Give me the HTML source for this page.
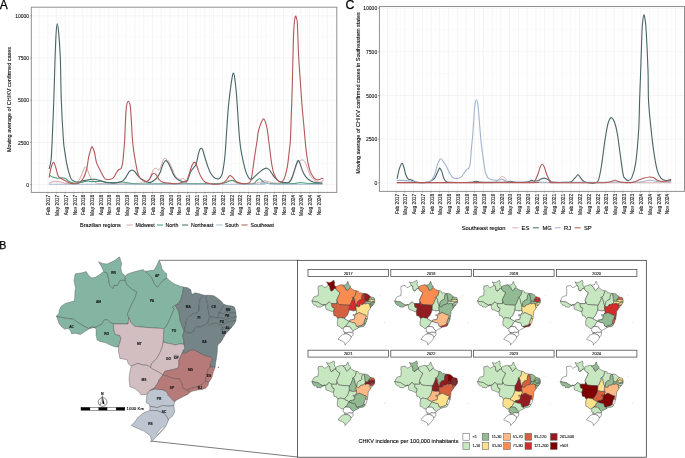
<!DOCTYPE html>
<html><head><meta charset="utf-8"><title>CHIKV figure</title>
<style>html,body{margin:0;padding:0;background:#fff;width:685px;height:458px;overflow:hidden} svg text{stroke:#1a1a1a;stroke-width:0.12px} svg text.big{stroke:#000;stroke-width:0.25px}</style>
</head><body>
<svg width="685" height="458" viewBox="0 0 685 458" style="display:block;will-change:transform;filter:blur(0.3px)"><rect width="685" height="458" fill="#fff"/><rect x="31.3" y="7.2" width="305.5" height="185.20000000000002" fill="#fff"/><line x1="39" y1="7.2" x2="39" y2="192.4" stroke="#ebebeb" stroke-width="0.55"/><line x1="34.7" y1="7.2" x2="34.7" y2="192.4" stroke="#f4f4f4" stroke-width="0.35"/><line x1="43.4" y1="7.2" x2="43.4" y2="192.4" stroke="#f4f4f4" stroke-width="0.35"/><line x1="47.8" y1="7.2" x2="47.8" y2="192.4" stroke="#ebebeb" stroke-width="0.55"/><line x1="52.06" y1="7.2" x2="52.06" y2="192.4" stroke="#f4f4f4" stroke-width="0.35"/><line x1="56.31" y1="7.2" x2="56.31" y2="192.4" stroke="#ebebeb" stroke-width="0.55"/><line x1="60.71" y1="7.2" x2="60.71" y2="192.4" stroke="#f4f4f4" stroke-width="0.35"/><line x1="65.11" y1="7.2" x2="65.11" y2="192.4" stroke="#ebebeb" stroke-width="0.55"/><line x1="69.51" y1="7.2" x2="69.51" y2="192.4" stroke="#f4f4f4" stroke-width="0.35"/><line x1="73.91" y1="7.2" x2="73.91" y2="192.4" stroke="#ebebeb" stroke-width="0.55"/><line x1="78.31" y1="7.2" x2="78.31" y2="192.4" stroke="#f4f4f4" stroke-width="0.35"/><line x1="82.7" y1="7.2" x2="82.7" y2="192.4" stroke="#ebebeb" stroke-width="0.55"/><line x1="86.96" y1="7.2" x2="86.96" y2="192.4" stroke="#f4f4f4" stroke-width="0.35"/><line x1="91.22" y1="7.2" x2="91.22" y2="192.4" stroke="#ebebeb" stroke-width="0.55"/><line x1="95.61" y1="7.2" x2="95.61" y2="192.4" stroke="#f4f4f4" stroke-width="0.35"/><line x1="100.01" y1="7.2" x2="100.01" y2="192.4" stroke="#ebebeb" stroke-width="0.55"/><line x1="104.41" y1="7.2" x2="104.41" y2="192.4" stroke="#f4f4f4" stroke-width="0.35"/><line x1="108.81" y1="7.2" x2="108.81" y2="192.4" stroke="#ebebeb" stroke-width="0.55"/><line x1="113.21" y1="7.2" x2="113.21" y2="192.4" stroke="#f4f4f4" stroke-width="0.35"/><line x1="117.61" y1="7.2" x2="117.61" y2="192.4" stroke="#ebebeb" stroke-width="0.55"/><line x1="121.86" y1="7.2" x2="121.86" y2="192.4" stroke="#f4f4f4" stroke-width="0.35"/><line x1="126.12" y1="7.2" x2="126.12" y2="192.4" stroke="#ebebeb" stroke-width="0.55"/><line x1="130.52" y1="7.2" x2="130.52" y2="192.4" stroke="#f4f4f4" stroke-width="0.35"/><line x1="134.92" y1="7.2" x2="134.92" y2="192.4" stroke="#ebebeb" stroke-width="0.55"/><line x1="139.32" y1="7.2" x2="139.32" y2="192.4" stroke="#f4f4f4" stroke-width="0.35"/><line x1="143.72" y1="7.2" x2="143.72" y2="192.4" stroke="#ebebeb" stroke-width="0.55"/><line x1="148.11" y1="7.2" x2="148.11" y2="192.4" stroke="#f4f4f4" stroke-width="0.35"/><line x1="152.51" y1="7.2" x2="152.51" y2="192.4" stroke="#ebebeb" stroke-width="0.55"/><line x1="156.82" y1="7.2" x2="156.82" y2="192.4" stroke="#f4f4f4" stroke-width="0.35"/><line x1="161.12" y1="7.2" x2="161.12" y2="192.4" stroke="#ebebeb" stroke-width="0.55"/><line x1="165.52" y1="7.2" x2="165.52" y2="192.4" stroke="#f4f4f4" stroke-width="0.35"/><line x1="169.92" y1="7.2" x2="169.92" y2="192.4" stroke="#ebebeb" stroke-width="0.55"/><line x1="174.32" y1="7.2" x2="174.32" y2="192.4" stroke="#f4f4f4" stroke-width="0.35"/><line x1="178.72" y1="7.2" x2="178.72" y2="192.4" stroke="#ebebeb" stroke-width="0.55"/><line x1="183.12" y1="7.2" x2="183.12" y2="192.4" stroke="#f4f4f4" stroke-width="0.35"/><line x1="187.51" y1="7.2" x2="187.51" y2="192.4" stroke="#ebebeb" stroke-width="0.55"/><line x1="191.77" y1="7.2" x2="191.77" y2="192.4" stroke="#f4f4f4" stroke-width="0.35"/><line x1="196.02" y1="7.2" x2="196.02" y2="192.4" stroke="#ebebeb" stroke-width="0.55"/><line x1="200.42" y1="7.2" x2="200.42" y2="192.4" stroke="#f4f4f4" stroke-width="0.35"/><line x1="204.82" y1="7.2" x2="204.82" y2="192.4" stroke="#ebebeb" stroke-width="0.55"/><line x1="209.22" y1="7.2" x2="209.22" y2="192.4" stroke="#f4f4f4" stroke-width="0.35"/><line x1="213.62" y1="7.2" x2="213.62" y2="192.4" stroke="#ebebeb" stroke-width="0.55"/><line x1="218.02" y1="7.2" x2="218.02" y2="192.4" stroke="#f4f4f4" stroke-width="0.35"/><line x1="222.42" y1="7.2" x2="222.42" y2="192.4" stroke="#ebebeb" stroke-width="0.55"/><line x1="226.67" y1="7.2" x2="226.67" y2="192.4" stroke="#f4f4f4" stroke-width="0.35"/><line x1="230.93" y1="7.2" x2="230.93" y2="192.4" stroke="#ebebeb" stroke-width="0.55"/><line x1="235.33" y1="7.2" x2="235.33" y2="192.4" stroke="#f4f4f4" stroke-width="0.35"/><line x1="239.73" y1="7.2" x2="239.73" y2="192.4" stroke="#ebebeb" stroke-width="0.55"/><line x1="244.13" y1="7.2" x2="244.13" y2="192.4" stroke="#f4f4f4" stroke-width="0.35"/><line x1="248.53" y1="7.2" x2="248.53" y2="192.4" stroke="#ebebeb" stroke-width="0.55"/><line x1="252.92" y1="7.2" x2="252.92" y2="192.4" stroke="#f4f4f4" stroke-width="0.35"/><line x1="257.32" y1="7.2" x2="257.32" y2="192.4" stroke="#ebebeb" stroke-width="0.55"/><line x1="261.58" y1="7.2" x2="261.58" y2="192.4" stroke="#f4f4f4" stroke-width="0.35"/><line x1="265.83" y1="7.2" x2="265.83" y2="192.4" stroke="#ebebeb" stroke-width="0.55"/><line x1="270.23" y1="7.2" x2="270.23" y2="192.4" stroke="#f4f4f4" stroke-width="0.35"/><line x1="274.63" y1="7.2" x2="274.63" y2="192.4" stroke="#ebebeb" stroke-width="0.55"/><line x1="279.03" y1="7.2" x2="279.03" y2="192.4" stroke="#f4f4f4" stroke-width="0.35"/><line x1="283.43" y1="7.2" x2="283.43" y2="192.4" stroke="#ebebeb" stroke-width="0.55"/><line x1="287.83" y1="7.2" x2="287.83" y2="192.4" stroke="#f4f4f4" stroke-width="0.35"/><line x1="292.23" y1="7.2" x2="292.23" y2="192.4" stroke="#ebebeb" stroke-width="0.55"/><line x1="296.53" y1="7.2" x2="296.53" y2="192.4" stroke="#f4f4f4" stroke-width="0.35"/><line x1="300.83" y1="7.2" x2="300.83" y2="192.4" stroke="#ebebeb" stroke-width="0.55"/><line x1="305.23" y1="7.2" x2="305.23" y2="192.4" stroke="#f4f4f4" stroke-width="0.35"/><line x1="309.63" y1="7.2" x2="309.63" y2="192.4" stroke="#ebebeb" stroke-width="0.55"/><line x1="314.03" y1="7.2" x2="314.03" y2="192.4" stroke="#f4f4f4" stroke-width="0.35"/><line x1="318.43" y1="7.2" x2="318.43" y2="192.4" stroke="#ebebeb" stroke-width="0.55"/><line x1="322.83" y1="7.2" x2="322.83" y2="192.4" stroke="#f4f4f4" stroke-width="0.35"/><line x1="327.23" y1="7.2" x2="327.23" y2="192.4" stroke="#ebebeb" stroke-width="0.55"/><line x1="331.53" y1="7.2" x2="331.53" y2="192.4" stroke="#f4f4f4" stroke-width="0.35"/><line x1="31.3" y1="184.6" x2="336.8" y2="184.6" stroke="#ebebeb" stroke-width="0.55"/><line x1="31.3" y1="163.5" x2="336.8" y2="163.5" stroke="#f4f4f4" stroke-width="0.35"/><line x1="31.3" y1="142.4" x2="336.8" y2="142.4" stroke="#ebebeb" stroke-width="0.55"/><line x1="31.3" y1="121.3" x2="336.8" y2="121.3" stroke="#f4f4f4" stroke-width="0.35"/><line x1="31.3" y1="100.2" x2="336.8" y2="100.2" stroke="#ebebeb" stroke-width="0.55"/><line x1="31.3" y1="79.1" x2="336.8" y2="79.1" stroke="#f4f4f4" stroke-width="0.35"/><line x1="31.3" y1="58" x2="336.8" y2="58" stroke="#ebebeb" stroke-width="0.55"/><line x1="31.3" y1="36.9" x2="336.8" y2="36.9" stroke="#f4f4f4" stroke-width="0.35"/><line x1="31.3" y1="15.8" x2="336.8" y2="15.8" stroke="#ebebeb" stroke-width="0.55"/><path d="M49.2,183.1C50.15,182.8 53.03,181.48 54.9,181.3C56.77,181.12 58.58,181.63 60.4,182C62.22,182.37 63.87,183.2 65.8,183.5C67.73,183.8 70.17,183.85 72,183.8C73.83,183.75 75.28,184.5 76.8,183.2C78.32,181.9 79.83,178.57 81.1,176C82.37,173.43 83.58,169.25 84.4,167.8C85.22,166.35 85.45,166.83 86,167.3C86.55,167.77 87.05,169.15 87.7,170.6C88.35,172.05 89.18,174.47 89.9,176C90.62,177.53 90.88,178.62 92,179.8C93.12,180.98 95.12,182.45 96.6,183.1C98.08,183.75 97,183.57 100.9,183.7C104.8,183.83 113.82,183.93 120,183.9C126.18,183.87 134.23,183.82 138,183.5C141.77,183.18 141.12,182.25 142.6,182C144.08,181.75 145.63,182.82 146.9,182C148.17,181.18 149.1,179.18 150.2,177.1C151.3,175.02 152.5,170.95 153.5,169.5C154.5,168.05 155.38,168.32 156.2,168.4C157.02,168.48 157.67,170.18 158.4,170C159.13,169.82 159.78,169.02 160.6,167.3C161.42,165.58 162.48,161.15 163.3,159.7C164.12,158.25 164.58,158.25 165.5,158.6C166.42,158.95 167.72,160.17 168.8,161.8C169.88,163.43 170.92,166.03 172,168.4C173.08,170.77 174.02,174.18 175.3,176C176.58,177.82 178.42,178.9 179.7,179.3C180.98,179.7 182.18,178.4 183,178.4C183.82,178.4 184.03,178.6 184.6,179.3C185.17,180 185.5,181.83 186.4,182.6C187.3,183.37 184.4,183.72 190,183.9C195.6,184.08 214.08,183.98 220,183.7C225.92,183.42 224,182.75 225.5,182.2C227,181.65 227.85,180.62 229,180.4C230.15,180.18 231.12,180.45 232.4,180.9C233.68,181.35 234.6,182.6 236.7,183.1C238.8,183.6 241.95,183.83 245,183.9C248.05,183.97 252.37,183.82 255,183.5C257.63,183.18 259.12,182.43 260.8,182C262.48,181.57 263.65,180.9 265.1,180.9C266.55,180.9 268.03,181.63 269.5,182C270.97,182.37 272.05,182.92 273.9,183.1C275.75,183.28 278.4,183.18 280.6,183.1C282.8,183.02 285.47,182.87 287.1,182.6C288.73,182.33 289.3,182.97 290.4,181.5C291.5,180.03 292.62,176.72 293.7,173.8C294.78,170.88 295.82,166.18 296.9,164C297.98,161.82 299.28,161.38 300.2,160.7C301.12,160.02 301.67,159.8 302.4,159.9C303.13,160 303.87,160.25 304.6,161.3C305.33,162.35 305.9,163.93 306.8,166.2C307.7,168.47 308.92,172.72 310,174.9C311.08,177.08 312.02,178.12 313.3,179.3C314.58,180.48 316.25,181.63 317.7,182C319.15,182.37 321.1,181.77 322,181.5C322.9,181.23 322.92,180.58 323.1,180.4" fill="none" stroke="#d5a3a4" stroke-width="1.0" stroke-linejoin="round" stroke-linecap="round"/><path d="M50,175.5C50.45,175.77 51.52,176.65 52.7,177.1C53.88,177.55 55.63,178.1 57.1,178.2C58.57,178.3 60.05,177.6 61.5,177.7C62.95,177.8 64.53,178.17 65.8,178.8C67.07,179.43 67.82,180.82 69.1,181.5C70.38,182.18 72.05,182.63 73.5,182.9C74.95,183.17 76.17,183.25 77.8,183.1C79.43,182.95 81.65,182.35 83.3,182C84.95,181.65 86.42,181.07 87.7,181C88.98,180.93 89.7,181.52 91,181.6C92.3,181.68 93.85,181.55 95.5,181.5C97.15,181.45 99.27,181.22 100.9,181.3C102.53,181.38 103.48,181.78 105.3,182C107.12,182.22 109.8,182.53 111.8,182.6C113.8,182.67 115.47,182.5 117.3,182.4C119.13,182.3 120.98,181.88 122.8,182C124.62,182.12 126.38,182.82 128.2,183.1C130.02,183.38 131.73,183.57 133.7,183.7C135.67,183.83 131.28,183.88 140,183.9C148.72,183.92 173.5,183.83 186,183.8C198.5,183.77 209,183.8 215,183.7C221,183.6 220.17,183.42 222,183.2C223.83,182.98 224.45,182.87 226,182.4C227.55,181.93 230.05,180.73 231.3,180.4C232.55,180.07 232.68,180.13 233.5,180.4C234.32,180.67 234.93,181.45 236.2,182C237.47,182.55 238.3,183.42 241.1,183.7C243.9,183.98 250.45,184.17 253,183.7C255.55,183.23 255.28,181.72 256.4,180.9C257.52,180.08 258.8,178.88 259.7,178.8C260.6,178.72 260.98,179.77 261.8,180.4C262.62,181.03 263.32,182.08 264.6,182.6C265.88,183.12 267.27,183.28 269.5,183.5C271.73,183.72 273.97,183.9 278,183.9C282.03,183.9 290,183.72 293.7,183.5C297.4,183.28 298.15,182.63 300.2,182.6C302.25,182.57 302.37,183.12 306,183.3C309.63,183.48 319.33,183.63 322,183.7" fill="none" stroke="#449b79" stroke-width="1.05" stroke-linejoin="round" stroke-linecap="round"/><path d="M49.2,168.6C49.52,167.12 50.6,164.47 51.1,159.7C51.6,154.93 51.75,149.95 52.2,140C52.65,130.05 53.32,113.8 53.8,100C54.28,86.2 54.7,68.53 55.1,57.2C55.5,45.87 55.83,37.57 56.2,32C56.57,26.43 56.9,23.8 57.3,23.8C57.7,23.8 58.1,26.43 58.6,32C59.1,37.57 59.85,45.87 60.3,57.2C60.75,68.53 60.78,86.2 61.3,100C61.82,113.8 62.83,131.52 63.4,140C63.97,148.48 64.2,147.27 64.7,150.9C65.2,154.53 65.75,158.33 66.4,161.8C67.05,165.27 67.78,168.78 68.6,171.7C69.42,174.62 70.3,177.67 71.3,179.3C72.3,180.93 73.33,181.05 74.6,181.5C75.87,181.95 77.63,182.1 78.9,182C80.17,181.9 81.1,181.17 82.2,180.9C83.3,180.63 84.22,180.63 85.5,180.4C86.78,180.17 88.42,179.68 89.9,179.5C91.38,179.32 92.93,179.18 94.4,179.3C95.87,179.42 97.25,179.83 98.7,180.2C100.15,180.57 101.63,181.07 103.1,181.5C104.57,181.93 105.68,182.53 107.5,182.8C109.32,183.07 112,183.23 114,183.1C116,182.97 118.03,182.37 119.5,182C120.97,181.63 121.72,181.72 122.8,180.9C123.88,180.08 124.92,178.63 126,177.1C127.08,175.57 128.3,172.88 129.3,171.7C130.3,170.52 131.08,170 132,170C132.92,170 133.8,170.7 134.8,171.7C135.8,172.7 136.88,174.73 138,176C139.12,177.27 140.2,178.38 141.5,179.3C142.8,180.22 144.53,180.95 145.8,181.5C147.07,182.05 148,182.6 149.1,182.6C150.2,182.6 151.13,182.23 152.4,181.5C153.67,180.77 155.43,179.65 156.7,178.2C157.97,176.75 159,174.98 160,172.8C161,170.62 161.78,167.12 162.7,165.1C163.62,163.08 164.58,161.07 165.5,160.7C166.42,160.33 167.3,161.62 168.2,162.9C169.1,164.18 169.98,166.4 170.9,168.4C171.82,170.4 172.7,173.17 173.7,174.9C174.7,176.63 175.72,177.8 176.9,178.8C178.08,179.8 179.4,180.37 180.8,180.9C182.2,181.43 184.18,182.08 185.3,182C186.42,181.92 186.6,182.12 187.5,180.4C188.4,178.68 189.62,173.88 190.7,171.7C191.78,169.52 193.08,168.58 194,167.3C194.92,166.02 195.47,166.18 196.2,164C196.93,161.82 197.77,156.65 198.4,154.2C199.03,151.75 199.5,150.3 200,149.3C200.5,148.3 200.95,148.12 201.4,148.2C201.85,148.28 202.12,148.25 202.7,149.8C203.28,151.35 204.07,154.77 204.9,157.5C205.73,160.23 206.78,163.65 207.7,166.2C208.62,168.75 209.4,170.98 210.4,172.8C211.4,174.62 212.62,176.1 213.7,177.1C214.78,178.1 215.9,178.62 216.9,178.8C217.9,178.98 218.88,178.85 219.7,178.2C220.52,177.55 221.17,176.72 221.8,174.9C222.43,173.08 222.95,170.75 223.5,167.3C224.05,163.85 224.62,159.58 225.1,154.2C225.58,148.82 225.87,142.7 226.4,135C226.93,127.3 227.65,115.5 228.3,108C228.95,100.5 229.67,95.07 230.3,90C230.93,84.93 231.6,80.43 232.1,77.6C232.6,74.77 232.87,72.97 233.3,73C233.73,73.03 234.17,74.2 234.7,77.8C235.23,81.4 235.87,86.73 236.5,94.6C237.13,102.47 237.97,117.43 238.5,125C239.03,132.57 239.27,135.68 239.7,140C240.13,144.32 240.5,147.27 241.1,150.9C241.7,154.53 242.57,158.52 243.3,161.8C244.03,165.08 244.68,168.05 245.5,170.6C246.32,173.15 247.38,175.65 248.2,177.1C249.02,178.55 249.58,179.12 250.4,179.3C251.22,179.48 252.1,178.93 253.1,178.2C254.1,177.47 255.12,176.08 256.4,174.9C257.68,173.72 259.53,172.1 260.8,171.1C262.07,170.1 263,169.38 264,168.9C265,168.42 265.88,168.02 266.8,168.2C267.72,168.38 268.5,168.88 269.5,170C270.5,171.12 271.72,173.43 272.8,174.9C273.88,176.37 274.7,177.62 276,178.8C277.3,179.98 279.12,181.37 280.6,182C282.08,182.63 283.45,182.6 284.9,182.6C286.35,182.6 288.02,183.1 289.3,182C290.58,180.9 291.6,178.45 292.6,176C293.6,173.55 294.48,169.75 295.3,167.3C296.12,164.85 296.95,162.4 297.5,161.3C298.05,160.2 298.15,160.25 298.6,160.7C299.05,161.15 299.48,162.17 300.2,164C300.92,165.83 301.98,169.6 302.9,171.7C303.82,173.8 304.7,175.25 305.7,176.6C306.7,177.95 307.63,178.9 308.9,179.8C310.17,180.7 311.83,181.48 313.3,182C314.77,182.52 316.25,182.72 317.7,182.9C319.15,183.08 321.28,183.07 322,183.1" fill="none" stroke="#486467" stroke-width="1.1" stroke-linejoin="round" stroke-linecap="round"/><path d="M49.2,184.2C66,184.2 115.53,184.2 150,184.2C184.47,184.2 237.53,184.37 256,184.2C274.47,184.03 259.28,183.52 260.8,183.2C262.32,182.88 263.65,182.23 265.1,182.3C266.55,182.37 267.85,183.28 269.5,183.6C271.15,183.92 266.25,184.1 275,184.2C283.75,184.3 314.17,184.2 322,184.2" fill="none" stroke="#a5b9cf" stroke-width="1.05" stroke-linejoin="round" stroke-linecap="round"/><path d="M49.2,177.1C49.5,175.58 50.27,170.45 51,168C51.73,165.55 52.77,162.33 53.6,162.4C54.43,162.47 55.23,166.13 56,168.4C56.77,170.67 57.28,174.27 58.2,176C59.12,177.73 60.23,177.97 61.5,178.8C62.77,179.63 64.35,180.28 65.8,181C67.25,181.72 68.73,182.65 70.2,183.1C71.67,183.55 73.15,183.7 74.6,183.7C76.05,183.7 77.45,184.02 78.9,183.1C80.35,182.18 82.02,180.47 83.3,178.2C84.58,175.93 85.68,173.13 86.6,169.5C87.52,165.87 88.07,159.87 88.8,156.4C89.53,152.93 90.42,150.3 91,148.7C91.58,147.1 91.73,146.25 92.3,146.8C92.87,147.35 93.68,149.32 94.4,152C95.12,154.68 95.7,159.98 96.6,162.9C97.5,165.82 98.53,167.03 99.8,169.5C101.07,171.97 103.1,176.07 104.2,177.7C105.3,179.33 105.32,179.03 106.4,179.3C107.48,179.57 109.52,179.57 110.7,179.3C111.88,179.03 112.5,178.88 113.5,177.7C114.5,176.52 115.8,173.57 116.7,172.2C117.6,170.83 118.17,170.1 118.9,169.5C119.63,168.9 120.45,169.88 121.1,168.6C121.75,167.32 122.35,164.75 122.8,161.8C123.25,158.85 123.48,154.53 123.8,150.9C124.12,147.27 124.43,144.87 124.7,140C124.97,135.13 125.1,127.3 125.4,121.7C125.7,116.1 126.02,109.82 126.5,106.4C126.98,102.98 127.67,101.2 128.3,101.2C128.93,101.2 129.78,102.98 130.3,106.4C130.82,109.82 131.03,116.1 131.4,121.7C131.77,127.3 132.12,135.13 132.5,140C132.88,144.87 133.13,146.9 133.7,150.9C134.27,154.9 135.18,160.18 135.9,164C136.62,167.82 137.23,171.38 138,173.8C138.77,176.22 139.73,177.5 140.5,178.5C141.27,179.5 141.53,179.3 142.6,179.8C143.67,180.3 145.73,181.58 146.9,181.5C148.07,181.42 148.78,180.4 149.6,179.3C150.42,178.2 151.07,175.9 151.8,174.9C152.53,173.9 153.27,173.3 154,173.3C154.73,173.3 155.38,173.9 156.2,174.9C157.02,175.9 157.9,178.12 158.9,179.3C159.9,180.48 160.55,181.37 162.2,182C163.85,182.63 166.62,182.82 168.8,183.1C170.98,183.38 173.48,183.7 175.3,183.7C177.12,183.7 178.42,183.38 179.7,183.1C180.98,182.82 181.95,182.37 183,182C184.05,181.63 185.25,181.35 186,180.9C186.75,180.45 186.8,181.02 187.5,179.3C188.2,177.58 189.38,173.05 190.2,170.6C191.02,168.15 191.73,165.97 192.4,164.6C193.07,163.23 193.57,162.5 194.2,162.4C194.83,162.3 195.5,162.63 196.2,164C196.9,165.37 197.58,168.42 198.4,170.6C199.22,172.78 200.02,175.2 201.1,177.1C202.18,179 203.35,180.9 204.9,182C206.45,183.1 208.4,183.33 210.4,183.7C212.4,184.07 215.08,184.23 216.9,184.2C218.72,184.17 219.83,184.05 221.3,183.5C222.77,182.95 224.52,181.97 225.7,180.9C226.88,179.83 227.65,178 228.4,177.1C229.15,176.2 229.45,175.4 230.2,175.5C230.95,175.6 231.9,176.7 232.9,177.7C233.9,178.7 235.02,180.6 236.2,181.5C237.38,182.4 238.63,182.73 240,183.1C241.37,183.47 242.95,183.7 244.4,183.7C245.85,183.7 247.62,183.65 248.7,183.1C249.78,182.55 250.25,182.48 250.9,180.4C251.55,178.32 252.05,174.05 252.6,170.6C253.15,167.15 253.67,163.35 254.2,159.7C254.73,156.05 255.3,151.98 255.8,148.7C256.3,145.42 256.82,142.68 257.2,140C257.58,137.32 257.58,135.12 258.1,132.6C258.62,130.08 259.38,127.18 260.3,124.9C261.22,122.62 262.6,118.9 263.6,118.9C264.6,118.9 265.58,122.43 266.3,124.9C267.02,127.37 267.52,131.18 267.9,133.7C268.28,136.22 268.25,137.13 268.6,140C268.95,142.87 269.48,146.9 270,150.9C270.52,154.9 271.05,160.18 271.7,164C272.35,167.82 272.97,171.17 273.9,173.8C274.83,176.43 276.18,178.43 277.3,179.8C278.42,181.17 279.6,181.9 280.6,182C281.6,182.1 282.48,181.58 283.3,180.4C284.12,179.22 284.78,177.45 285.5,174.9C286.22,172.35 286.97,169.1 287.6,165.1C288.23,161.1 288.83,155.08 289.3,150.9C289.77,146.72 290.05,146.52 290.4,140C290.75,133.48 291.08,120.97 291.4,111.8C291.72,102.63 291.97,96.97 292.3,85C292.63,73.03 293.05,50.5 293.4,40C293.75,29.5 294.03,25.98 294.4,22C294.77,18.02 295.23,16.6 295.6,16.1C295.97,15.6 296.3,17.68 296.6,19C296.9,20.32 297.07,17.92 297.4,24C297.73,30.08 298.13,46.17 298.6,55.5C299.07,64.83 299.63,71.75 300.2,80C300.77,88.25 301.4,97.5 302,105C302.6,112.5 303.28,119.17 303.8,125C304.32,130.83 304.7,135.68 305.1,140C305.5,144.32 305.75,147.27 306.2,150.9C306.65,154.53 307.17,158.52 307.8,161.8C308.43,165.08 309.08,168.05 310,170.6C310.92,173.15 312.2,175.57 313.3,177.1C314.4,178.63 315.5,179.43 316.6,179.8C317.7,180.17 319,179.57 319.9,179.3C320.8,179.03 321.47,178.28 322,178.2C322.53,178.12 322.92,178.7 323.1,178.8" fill="none" stroke="#b35858" stroke-width="1.1" stroke-linejoin="round" stroke-linecap="round"/><rect x="31.3" y="7.2" width="305.5" height="185.20000000000002" fill="none" stroke="#8c8c8c" stroke-width="0.95"/><line x1="30.0" y1="184.6" x2="31.3" y2="184.6" stroke="#666" stroke-width="0.55"/><text x="29.1" y="186.7" text-anchor="end" style="font-family:'Liberation Sans',sans-serif;font-size:5px" fill="#1a1a1a">0</text><line x1="30.0" y1="142.4" x2="31.3" y2="142.4" stroke="#666" stroke-width="0.55"/><text x="29.1" y="144.5" text-anchor="end" style="font-family:'Liberation Sans',sans-serif;font-size:5px" fill="#1a1a1a">2500</text><line x1="30.0" y1="100.2" x2="31.3" y2="100.2" stroke="#666" stroke-width="0.55"/><text x="29.1" y="102.3" text-anchor="end" style="font-family:'Liberation Sans',sans-serif;font-size:5px" fill="#1a1a1a">5000</text><line x1="30.0" y1="58" x2="31.3" y2="58" stroke="#666" stroke-width="0.55"/><text x="29.1" y="60.1" text-anchor="end" style="font-family:'Liberation Sans',sans-serif;font-size:5px" fill="#1a1a1a">7500</text><line x1="30.0" y1="15.8" x2="31.3" y2="15.8" stroke="#666" stroke-width="0.55"/><text x="29.1" y="17.9" text-anchor="end" style="font-family:'Liberation Sans',sans-serif;font-size:5px" fill="#1a1a1a">10000</text><line x1="47.8" y1="192.4" x2="47.8" y2="193.7" stroke="#666" stroke-width="0.55"/><text transform="translate(50.4,194.8) rotate(-90)" text-anchor="end" style="font-family:'Liberation Sans',sans-serif;font-size:4.8px" fill="#1a1a1a">Feb 2017</text><line x1="56.31" y1="192.4" x2="56.31" y2="193.7" stroke="#666" stroke-width="0.55"/><text transform="translate(58.91,194.8) rotate(-90)" text-anchor="end" style="font-family:'Liberation Sans',sans-serif;font-size:4.8px" fill="#1a1a1a">May 2017</text><line x1="65.11" y1="192.4" x2="65.11" y2="193.7" stroke="#666" stroke-width="0.55"/><text transform="translate(67.71,194.8) rotate(-90)" text-anchor="end" style="font-family:'Liberation Sans',sans-serif;font-size:4.8px" fill="#1a1a1a">Aug 2017</text><line x1="73.91" y1="192.4" x2="73.91" y2="193.7" stroke="#666" stroke-width="0.55"/><text transform="translate(76.51,194.8) rotate(-90)" text-anchor="end" style="font-family:'Liberation Sans',sans-serif;font-size:4.8px" fill="#1a1a1a">Nov 2017</text><line x1="82.7" y1="192.4" x2="82.7" y2="193.7" stroke="#666" stroke-width="0.55"/><text transform="translate(85.3,194.8) rotate(-90)" text-anchor="end" style="font-family:'Liberation Sans',sans-serif;font-size:4.8px" fill="#1a1a1a">Feb 2018</text><line x1="91.22" y1="192.4" x2="91.22" y2="193.7" stroke="#666" stroke-width="0.55"/><text transform="translate(93.82,194.8) rotate(-90)" text-anchor="end" style="font-family:'Liberation Sans',sans-serif;font-size:4.8px" fill="#1a1a1a">May 2018</text><line x1="100.01" y1="192.4" x2="100.01" y2="193.7" stroke="#666" stroke-width="0.55"/><text transform="translate(102.61,194.8) rotate(-90)" text-anchor="end" style="font-family:'Liberation Sans',sans-serif;font-size:4.8px" fill="#1a1a1a">Aug 2018</text><line x1="108.81" y1="192.4" x2="108.81" y2="193.7" stroke="#666" stroke-width="0.55"/><text transform="translate(111.41,194.8) rotate(-90)" text-anchor="end" style="font-family:'Liberation Sans',sans-serif;font-size:4.8px" fill="#1a1a1a">Nov 2018</text><line x1="117.61" y1="192.4" x2="117.61" y2="193.7" stroke="#666" stroke-width="0.55"/><text transform="translate(120.21,194.8) rotate(-90)" text-anchor="end" style="font-family:'Liberation Sans',sans-serif;font-size:4.8px" fill="#1a1a1a">Feb 2019</text><line x1="126.12" y1="192.4" x2="126.12" y2="193.7" stroke="#666" stroke-width="0.55"/><text transform="translate(128.72,194.8) rotate(-90)" text-anchor="end" style="font-family:'Liberation Sans',sans-serif;font-size:4.8px" fill="#1a1a1a">May 2019</text><line x1="134.92" y1="192.4" x2="134.92" y2="193.7" stroke="#666" stroke-width="0.55"/><text transform="translate(137.52,194.8) rotate(-90)" text-anchor="end" style="font-family:'Liberation Sans',sans-serif;font-size:4.8px" fill="#1a1a1a">Aug 2019</text><line x1="143.72" y1="192.4" x2="143.72" y2="193.7" stroke="#666" stroke-width="0.55"/><text transform="translate(146.32,194.8) rotate(-90)" text-anchor="end" style="font-family:'Liberation Sans',sans-serif;font-size:4.8px" fill="#1a1a1a">Nov 2019</text><line x1="152.51" y1="192.4" x2="152.51" y2="193.7" stroke="#666" stroke-width="0.55"/><text transform="translate(155.11,194.8) rotate(-90)" text-anchor="end" style="font-family:'Liberation Sans',sans-serif;font-size:4.8px" fill="#1a1a1a">Feb 2020</text><line x1="161.12" y1="192.4" x2="161.12" y2="193.7" stroke="#666" stroke-width="0.55"/><text transform="translate(163.72,194.8) rotate(-90)" text-anchor="end" style="font-family:'Liberation Sans',sans-serif;font-size:4.8px" fill="#1a1a1a">May 2020</text><line x1="169.92" y1="192.4" x2="169.92" y2="193.7" stroke="#666" stroke-width="0.55"/><text transform="translate(172.52,194.8) rotate(-90)" text-anchor="end" style="font-family:'Liberation Sans',sans-serif;font-size:4.8px" fill="#1a1a1a">Aug 2020</text><line x1="178.72" y1="192.4" x2="178.72" y2="193.7" stroke="#666" stroke-width="0.55"/><text transform="translate(181.32,194.8) rotate(-90)" text-anchor="end" style="font-family:'Liberation Sans',sans-serif;font-size:4.8px" fill="#1a1a1a">Nov 2020</text><line x1="187.51" y1="192.4" x2="187.51" y2="193.7" stroke="#666" stroke-width="0.55"/><text transform="translate(190.11,194.8) rotate(-90)" text-anchor="end" style="font-family:'Liberation Sans',sans-serif;font-size:4.8px" fill="#1a1a1a">Feb 2021</text><line x1="196.02" y1="192.4" x2="196.02" y2="193.7" stroke="#666" stroke-width="0.55"/><text transform="translate(198.62,194.8) rotate(-90)" text-anchor="end" style="font-family:'Liberation Sans',sans-serif;font-size:4.8px" fill="#1a1a1a">May 2021</text><line x1="204.82" y1="192.4" x2="204.82" y2="193.7" stroke="#666" stroke-width="0.55"/><text transform="translate(207.42,194.8) rotate(-90)" text-anchor="end" style="font-family:'Liberation Sans',sans-serif;font-size:4.8px" fill="#1a1a1a">Aug 2021</text><line x1="213.62" y1="192.4" x2="213.62" y2="193.7" stroke="#666" stroke-width="0.55"/><text transform="translate(216.22,194.8) rotate(-90)" text-anchor="end" style="font-family:'Liberation Sans',sans-serif;font-size:4.8px" fill="#1a1a1a">Nov 2021</text><line x1="222.42" y1="192.4" x2="222.42" y2="193.7" stroke="#666" stroke-width="0.55"/><text transform="translate(225.02,194.8) rotate(-90)" text-anchor="end" style="font-family:'Liberation Sans',sans-serif;font-size:4.8px" fill="#1a1a1a">Feb 2022</text><line x1="230.93" y1="192.4" x2="230.93" y2="193.7" stroke="#666" stroke-width="0.55"/><text transform="translate(233.53,194.8) rotate(-90)" text-anchor="end" style="font-family:'Liberation Sans',sans-serif;font-size:4.8px" fill="#1a1a1a">May 2022</text><line x1="239.73" y1="192.4" x2="239.73" y2="193.7" stroke="#666" stroke-width="0.55"/><text transform="translate(242.33,194.8) rotate(-90)" text-anchor="end" style="font-family:'Liberation Sans',sans-serif;font-size:4.8px" fill="#1a1a1a">Aug 2022</text><line x1="248.53" y1="192.4" x2="248.53" y2="193.7" stroke="#666" stroke-width="0.55"/><text transform="translate(251.13,194.8) rotate(-90)" text-anchor="end" style="font-family:'Liberation Sans',sans-serif;font-size:4.8px" fill="#1a1a1a">Nov 2022</text><line x1="257.32" y1="192.4" x2="257.32" y2="193.7" stroke="#666" stroke-width="0.55"/><text transform="translate(259.92,194.8) rotate(-90)" text-anchor="end" style="font-family:'Liberation Sans',sans-serif;font-size:4.8px" fill="#1a1a1a">Feb 2023</text><line x1="265.83" y1="192.4" x2="265.83" y2="193.7" stroke="#666" stroke-width="0.55"/><text transform="translate(268.43,194.8) rotate(-90)" text-anchor="end" style="font-family:'Liberation Sans',sans-serif;font-size:4.8px" fill="#1a1a1a">May 2023</text><line x1="274.63" y1="192.4" x2="274.63" y2="193.7" stroke="#666" stroke-width="0.55"/><text transform="translate(277.23,194.8) rotate(-90)" text-anchor="end" style="font-family:'Liberation Sans',sans-serif;font-size:4.8px" fill="#1a1a1a">Aug 2023</text><line x1="283.43" y1="192.4" x2="283.43" y2="193.7" stroke="#666" stroke-width="0.55"/><text transform="translate(286.03,194.8) rotate(-90)" text-anchor="end" style="font-family:'Liberation Sans',sans-serif;font-size:4.8px" fill="#1a1a1a">Nov 2023</text><line x1="292.23" y1="192.4" x2="292.23" y2="193.7" stroke="#666" stroke-width="0.55"/><text transform="translate(294.83,194.8) rotate(-90)" text-anchor="end" style="font-family:'Liberation Sans',sans-serif;font-size:4.8px" fill="#1a1a1a">Feb 2024</text><line x1="300.83" y1="192.4" x2="300.83" y2="193.7" stroke="#666" stroke-width="0.55"/><text transform="translate(303.43,194.8) rotate(-90)" text-anchor="end" style="font-family:'Liberation Sans',sans-serif;font-size:4.8px" fill="#1a1a1a">May 2024</text><line x1="309.63" y1="192.4" x2="309.63" y2="193.7" stroke="#666" stroke-width="0.55"/><text transform="translate(312.23,194.8) rotate(-90)" text-anchor="end" style="font-family:'Liberation Sans',sans-serif;font-size:4.8px" fill="#1a1a1a">Aug 2024</text><line x1="318.43" y1="192.4" x2="318.43" y2="193.7" stroke="#666" stroke-width="0.55"/><text transform="translate(321.03,194.8) rotate(-90)" text-anchor="end" style="font-family:'Liberation Sans',sans-serif;font-size:4.8px" fill="#1a1a1a">Nov 2024</text><text transform="translate(10.8,99.5) rotate(-90)" text-anchor="middle" style="font-family:'Liberation Sans',sans-serif;font-size:5.5px" fill="#000">Moving average of CHIKV confirmed cases</text><text x="-0.3" y="8.7" style="font-family:'Liberation Sans',sans-serif;font-size:12px" fill="#000" class="big">A</text><text x="80.1" y="226.8" style="font-family:'Liberation Sans',sans-serif;font-size:5.5px" fill="#000">Brazilian regions</text><line x1="126.4" y1="225" x2="132.6" y2="225" stroke="#d9abab" stroke-width="1"/><text x="135.6" y="226.8" style="font-family:'Liberation Sans',sans-serif;font-size:5.2px" fill="#000">Midwest</text><line x1="157" y1="225" x2="163.2" y2="225" stroke="#449b79" stroke-width="1"/><text x="165.6" y="226.8" style="font-family:'Liberation Sans',sans-serif;font-size:5.2px" fill="#000">North</text><line x1="182" y1="225" x2="188.2" y2="225" stroke="#486467" stroke-width="1"/><text x="190.9" y="226.8" style="font-family:'Liberation Sans',sans-serif;font-size:5.2px" fill="#000">Northeast</text><line x1="216.2" y1="225" x2="222.39999999999998" y2="225" stroke="#a5b9cf" stroke-width="1"/><text x="225" y="226.8" style="font-family:'Liberation Sans',sans-serif;font-size:5.2px" fill="#000">South</text><line x1="241.4" y1="225" x2="247.6" y2="225" stroke="#b35858" stroke-width="1"/><text x="250.6" y="226.8" style="font-family:'Liberation Sans',sans-serif;font-size:5.2px" fill="#000">Southeast</text><rect x="379.4" y="6.5" width="305.1" height="184.9" fill="#fff"/><line x1="387.4" y1="6.5" x2="387.4" y2="191.4" stroke="#ebebeb" stroke-width="0.55"/><line x1="383.1" y1="6.5" x2="383.1" y2="191.4" stroke="#f4f4f4" stroke-width="0.35"/><line x1="391.8" y1="6.5" x2="391.8" y2="191.4" stroke="#f4f4f4" stroke-width="0.35"/><line x1="396.2" y1="6.5" x2="396.2" y2="191.4" stroke="#ebebeb" stroke-width="0.55"/><line x1="400.46" y1="6.5" x2="400.46" y2="191.4" stroke="#f4f4f4" stroke-width="0.35"/><line x1="404.71" y1="6.5" x2="404.71" y2="191.4" stroke="#ebebeb" stroke-width="0.55"/><line x1="409.11" y1="6.5" x2="409.11" y2="191.4" stroke="#f4f4f4" stroke-width="0.35"/><line x1="413.51" y1="6.5" x2="413.51" y2="191.4" stroke="#ebebeb" stroke-width="0.55"/><line x1="417.91" y1="6.5" x2="417.91" y2="191.4" stroke="#f4f4f4" stroke-width="0.35"/><line x1="422.31" y1="6.5" x2="422.31" y2="191.4" stroke="#ebebeb" stroke-width="0.55"/><line x1="426.71" y1="6.5" x2="426.71" y2="191.4" stroke="#f4f4f4" stroke-width="0.35"/><line x1="431.1" y1="6.5" x2="431.1" y2="191.4" stroke="#ebebeb" stroke-width="0.55"/><line x1="435.36" y1="6.5" x2="435.36" y2="191.4" stroke="#f4f4f4" stroke-width="0.35"/><line x1="439.62" y1="6.5" x2="439.62" y2="191.4" stroke="#ebebeb" stroke-width="0.55"/><line x1="444.01" y1="6.5" x2="444.01" y2="191.4" stroke="#f4f4f4" stroke-width="0.35"/><line x1="448.41" y1="6.5" x2="448.41" y2="191.4" stroke="#ebebeb" stroke-width="0.55"/><line x1="452.81" y1="6.5" x2="452.81" y2="191.4" stroke="#f4f4f4" stroke-width="0.35"/><line x1="457.21" y1="6.5" x2="457.21" y2="191.4" stroke="#ebebeb" stroke-width="0.55"/><line x1="461.61" y1="6.5" x2="461.61" y2="191.4" stroke="#f4f4f4" stroke-width="0.35"/><line x1="466.01" y1="6.5" x2="466.01" y2="191.4" stroke="#ebebeb" stroke-width="0.55"/><line x1="470.26" y1="6.5" x2="470.26" y2="191.4" stroke="#f4f4f4" stroke-width="0.35"/><line x1="474.52" y1="6.5" x2="474.52" y2="191.4" stroke="#ebebeb" stroke-width="0.55"/><line x1="478.92" y1="6.5" x2="478.92" y2="191.4" stroke="#f4f4f4" stroke-width="0.35"/><line x1="483.32" y1="6.5" x2="483.32" y2="191.4" stroke="#ebebeb" stroke-width="0.55"/><line x1="487.72" y1="6.5" x2="487.72" y2="191.4" stroke="#f4f4f4" stroke-width="0.35"/><line x1="492.12" y1="6.5" x2="492.12" y2="191.4" stroke="#ebebeb" stroke-width="0.55"/><line x1="496.51" y1="6.5" x2="496.51" y2="191.4" stroke="#f4f4f4" stroke-width="0.35"/><line x1="500.91" y1="6.5" x2="500.91" y2="191.4" stroke="#ebebeb" stroke-width="0.55"/><line x1="505.22" y1="6.5" x2="505.22" y2="191.4" stroke="#f4f4f4" stroke-width="0.35"/><line x1="509.52" y1="6.5" x2="509.52" y2="191.4" stroke="#ebebeb" stroke-width="0.55"/><line x1="513.92" y1="6.5" x2="513.92" y2="191.4" stroke="#f4f4f4" stroke-width="0.35"/><line x1="518.32" y1="6.5" x2="518.32" y2="191.4" stroke="#ebebeb" stroke-width="0.55"/><line x1="522.72" y1="6.5" x2="522.72" y2="191.4" stroke="#f4f4f4" stroke-width="0.35"/><line x1="527.12" y1="6.5" x2="527.12" y2="191.4" stroke="#ebebeb" stroke-width="0.55"/><line x1="531.51" y1="6.5" x2="531.51" y2="191.4" stroke="#f4f4f4" stroke-width="0.35"/><line x1="535.91" y1="6.5" x2="535.91" y2="191.4" stroke="#ebebeb" stroke-width="0.55"/><line x1="540.17" y1="6.5" x2="540.17" y2="191.4" stroke="#f4f4f4" stroke-width="0.35"/><line x1="544.42" y1="6.5" x2="544.42" y2="191.4" stroke="#ebebeb" stroke-width="0.55"/><line x1="548.82" y1="6.5" x2="548.82" y2="191.4" stroke="#f4f4f4" stroke-width="0.35"/><line x1="553.22" y1="6.5" x2="553.22" y2="191.4" stroke="#ebebeb" stroke-width="0.55"/><line x1="557.62" y1="6.5" x2="557.62" y2="191.4" stroke="#f4f4f4" stroke-width="0.35"/><line x1="562.02" y1="6.5" x2="562.02" y2="191.4" stroke="#ebebeb" stroke-width="0.55"/><line x1="566.42" y1="6.5" x2="566.42" y2="191.4" stroke="#f4f4f4" stroke-width="0.35"/><line x1="570.82" y1="6.5" x2="570.82" y2="191.4" stroke="#ebebeb" stroke-width="0.55"/><line x1="575.07" y1="6.5" x2="575.07" y2="191.4" stroke="#f4f4f4" stroke-width="0.35"/><line x1="579.33" y1="6.5" x2="579.33" y2="191.4" stroke="#ebebeb" stroke-width="0.55"/><line x1="583.73" y1="6.5" x2="583.73" y2="191.4" stroke="#f4f4f4" stroke-width="0.35"/><line x1="588.13" y1="6.5" x2="588.13" y2="191.4" stroke="#ebebeb" stroke-width="0.55"/><line x1="592.53" y1="6.5" x2="592.53" y2="191.4" stroke="#f4f4f4" stroke-width="0.35"/><line x1="596.93" y1="6.5" x2="596.93" y2="191.4" stroke="#ebebeb" stroke-width="0.55"/><line x1="601.32" y1="6.5" x2="601.32" y2="191.4" stroke="#f4f4f4" stroke-width="0.35"/><line x1="605.72" y1="6.5" x2="605.72" y2="191.4" stroke="#ebebeb" stroke-width="0.55"/><line x1="609.98" y1="6.5" x2="609.98" y2="191.4" stroke="#f4f4f4" stroke-width="0.35"/><line x1="614.23" y1="6.5" x2="614.23" y2="191.4" stroke="#ebebeb" stroke-width="0.55"/><line x1="618.63" y1="6.5" x2="618.63" y2="191.4" stroke="#f4f4f4" stroke-width="0.35"/><line x1="623.03" y1="6.5" x2="623.03" y2="191.4" stroke="#ebebeb" stroke-width="0.55"/><line x1="627.43" y1="6.5" x2="627.43" y2="191.4" stroke="#f4f4f4" stroke-width="0.35"/><line x1="631.83" y1="6.5" x2="631.83" y2="191.4" stroke="#ebebeb" stroke-width="0.55"/><line x1="636.23" y1="6.5" x2="636.23" y2="191.4" stroke="#f4f4f4" stroke-width="0.35"/><line x1="640.63" y1="6.5" x2="640.63" y2="191.4" stroke="#ebebeb" stroke-width="0.55"/><line x1="644.93" y1="6.5" x2="644.93" y2="191.4" stroke="#f4f4f4" stroke-width="0.35"/><line x1="649.23" y1="6.5" x2="649.23" y2="191.4" stroke="#ebebeb" stroke-width="0.55"/><line x1="653.63" y1="6.5" x2="653.63" y2="191.4" stroke="#f4f4f4" stroke-width="0.35"/><line x1="658.03" y1="6.5" x2="658.03" y2="191.4" stroke="#ebebeb" stroke-width="0.55"/><line x1="662.43" y1="6.5" x2="662.43" y2="191.4" stroke="#f4f4f4" stroke-width="0.35"/><line x1="666.83" y1="6.5" x2="666.83" y2="191.4" stroke="#ebebeb" stroke-width="0.55"/><line x1="671.23" y1="6.5" x2="671.23" y2="191.4" stroke="#f4f4f4" stroke-width="0.35"/><line x1="675.63" y1="6.5" x2="675.63" y2="191.4" stroke="#ebebeb" stroke-width="0.55"/><line x1="679.93" y1="6.5" x2="679.93" y2="191.4" stroke="#f4f4f4" stroke-width="0.35"/><line x1="379.4" y1="182.9" x2="684.5" y2="182.9" stroke="#ebebeb" stroke-width="0.55"/><line x1="379.4" y1="161.05" x2="684.5" y2="161.05" stroke="#f4f4f4" stroke-width="0.35"/><line x1="379.4" y1="139.2" x2="684.5" y2="139.2" stroke="#ebebeb" stroke-width="0.55"/><line x1="379.4" y1="117.35" x2="684.5" y2="117.35" stroke="#f4f4f4" stroke-width="0.35"/><line x1="379.4" y1="95.5" x2="684.5" y2="95.5" stroke="#ebebeb" stroke-width="0.55"/><line x1="379.4" y1="73.65" x2="684.5" y2="73.65" stroke="#f4f4f4" stroke-width="0.35"/><line x1="379.4" y1="51.8" x2="684.5" y2="51.8" stroke="#ebebeb" stroke-width="0.55"/><line x1="379.4" y1="29.95" x2="684.5" y2="29.95" stroke="#f4f4f4" stroke-width="0.35"/><line x1="379.4" y1="8.1" x2="684.5" y2="8.1" stroke="#ebebeb" stroke-width="0.55"/><path d="M397.2,182.8C411,182.8 463.87,182.83 480,182.8C496.13,182.77 491.05,182.98 494,182.6C496.95,182.22 496.43,181.52 497.7,180.5C498.97,179.48 500.4,176.95 501.6,176.5C502.8,176.05 503.92,177.02 504.9,177.8C505.88,178.58 506.48,180.4 507.5,181.2C508.52,182 495.58,182.33 511,182.6C526.42,182.87 573.38,182.77 600,182.8C626.62,182.83 658.92,182.8 670.7,182.8" fill="none" stroke="#d9abab" stroke-width="0.95" stroke-linejoin="round" stroke-linecap="round"/><path d="M397.2,178.4C397.53,176.88 398.43,171.8 399.2,169.3C399.97,166.8 401.05,163.85 401.8,163.4C402.55,162.95 403.05,164.75 403.7,166.6C404.35,168.45 404.93,172.42 405.7,174.5C406.47,176.58 407.43,178.23 408.3,179.1C409.17,179.97 410.02,179.38 410.9,179.7C411.78,180.02 412.5,180.55 413.6,181C414.7,181.45 415.33,182.17 417.5,182.4C419.67,182.63 424.42,182.63 426.6,182.4C428.78,182.17 429.28,181.67 430.6,181C431.92,180.33 433.42,179.7 434.5,178.4C435.58,177.1 436.38,174.68 437.1,173.2C437.82,171.72 438.33,170.33 438.8,169.5C439.27,168.67 439.38,167.8 439.9,168.2C440.42,168.6 441.23,170.2 441.9,171.9C442.57,173.6 443.13,176.77 443.9,178.4C444.67,180.03 445.2,181.03 446.5,181.7C447.8,182.37 447.78,182.28 451.7,182.4C455.62,182.52 466.07,182.58 470,182.4C473.93,182.22 473.77,181.35 475.3,181.3C476.83,181.25 476.75,181.92 479.2,182.1C481.65,182.28 485.7,182.38 490,182.4C494.3,182.42 501.53,182.38 505,182.2C508.47,182.02 508.97,181.3 510.8,181.3C512.63,181.3 513.13,182.13 516,182.2C518.87,182.27 525.45,182 528,181.7C530.55,181.4 530.22,180.52 531.3,180.4C532.38,180.28 533.3,181 534.5,181C535.7,181 537.18,180.83 538.5,180.4C539.82,179.97 541.32,178.77 542.4,178.4C543.48,178.03 544.02,177.98 545,178.2C545.98,178.42 547.2,179.05 548.3,179.7C549.4,180.35 548.82,181.65 551.6,182.1C554.38,182.55 561.73,182.47 565,182.4C568.27,182.33 569.73,182.25 571.2,181.7C572.67,181.15 573,179.92 573.8,179.1C574.6,178.28 575.32,177.52 576,176.8C576.68,176.08 577.25,174.8 577.9,174.8C578.55,174.8 579.07,175.82 579.9,176.8C580.73,177.78 581.58,179.72 582.9,180.7C584.22,181.68 585.67,182.37 587.8,182.7C589.93,183.03 593.9,183.2 595.7,182.7C597.5,182.2 597.62,182.65 598.6,179.7C599.58,176.75 600.62,171.07 601.6,165C602.58,158.93 603.52,149.87 604.5,143.3C605.48,136.73 606.67,129.57 607.5,125.6C608.33,121.63 608.85,120.82 609.5,119.5C610.15,118.18 610.58,117.33 611.4,117.7C612.22,118.07 613.42,119.07 614.4,121.7C615.38,124.33 616.32,127.93 617.3,133.5C618.28,139.07 619.32,148.22 620.3,155.1C621.28,161.98 622.33,170.85 623.2,174.8C624.07,178.75 624.72,177.85 625.5,178.8C626.28,179.75 626.85,180.7 627.9,180.5C628.95,180.3 630.5,180.53 631.8,177.6C633.1,174.67 634.55,170.92 635.7,162.9C636.85,154.88 638.05,139.98 638.7,129.5C639.35,119.02 639.27,109.82 639.6,100C639.93,90.18 640.3,82.07 640.7,70.6C641.1,59.13 641.62,39.8 642,31.2C642.38,22.6 642.67,21.73 643,19C643.33,16.27 643.67,14.8 644,14.8C644.33,14.8 644.63,16.27 645,19C645.37,21.73 645.7,22.6 646.2,31.2C646.7,39.8 647.62,59.13 648,70.6C648.38,82.07 648.08,91.17 648.5,100C648.92,108.83 649.68,115.42 650.5,123.6C651.32,131.78 652.27,141.25 653.4,149.1C654.53,156.95 655.98,165.78 657.3,170.7C658.62,175.62 659.82,176.97 661.3,178.6C662.78,180.23 664.63,180.33 666.2,180.5C667.77,180.67 669.95,179.75 670.7,179.6" fill="none" stroke="#486467" stroke-width="1.1" stroke-linejoin="round" stroke-linecap="round"/><path d="M397.2,180.4C398.18,180.4 401.03,180.3 403.1,180.4C405.17,180.5 407.42,180.67 409.6,181C411.78,181.33 413.13,182.22 416.2,182.4C419.27,182.58 425.38,182.55 428,182.1C430.62,181.65 430.7,181.18 431.9,179.7C433.1,178.22 434.33,175.6 435.2,173.2C436.07,170.8 436.5,167.27 437.1,165.3C437.7,163.33 438.22,162.48 438.8,161.4C439.38,160.32 439.87,158.8 440.6,158.8C441.33,158.8 442.22,160.1 443.2,161.4C444.18,162.7 445.42,164.63 446.5,166.6C447.58,168.57 448.62,171.33 449.7,173.2C450.78,175.07 451.8,176.93 453,177.8C454.2,178.67 455.58,178.52 456.9,178.4C458.22,178.28 459.7,177.97 460.9,177.1C462.1,176.23 463.12,174.5 464.1,173.2C465.08,171.9 466.03,170.07 466.8,169.3C467.57,168.53 468.12,169.7 468.7,168.6C469.28,167.5 469.87,165.87 470.3,162.7C470.73,159.53 470.92,153.97 471.3,149.6C471.68,145.23 472.22,141.1 472.6,136.5C472.98,131.9 473.23,127.08 473.6,122C473.97,116.92 474.33,109.68 474.8,106C475.27,102.32 475.87,99.9 476.4,99.9C476.93,99.9 477.5,102.32 478,106C478.5,109.68 478.87,115.82 479.4,122C479.93,128.18 480.55,136.97 481.2,143.1C481.85,149.23 482.62,154 483.3,158.8C483.98,163.6 484.53,168.73 485.3,171.9C486.07,175.07 486.7,176.5 487.9,177.8C489.1,179.1 490.87,179.27 492.5,179.7C494.13,180.13 496.18,180.5 497.7,180.4C499.22,180.3 500.4,179.1 501.6,179.1C502.8,179.1 503.8,179.9 504.9,180.4C506,180.9 505.68,181.78 508.2,182.1C510.72,182.42 514.73,182.3 520,182.3C525.27,182.3 535.63,182.1 539.8,182.1C543.97,182.1 534.97,182.27 545,182.3C555.03,182.33 587.5,182.3 600,182.3C612.5,182.3 613.4,182.33 620,182.3C626.6,182.27 634.68,182.45 639.6,182.1C644.52,181.75 646.55,180.3 649.5,180.2C652.45,180.1 653.77,181.22 657.3,181.5C660.83,181.78 668.47,181.83 670.7,181.9" fill="none" stroke="#a0b5cc" stroke-width="1.1" stroke-linejoin="round" stroke-linecap="round"/><path d="M397.2,182.6C419,182.6 505.7,182.65 528,182.6C550.3,182.55 529.92,182.48 531,182.3C532.08,182.12 533.37,182.8 534.5,181.5C535.63,180.2 536.82,176.98 537.8,174.5C538.78,172.02 539.63,168.3 540.4,166.6C541.17,164.9 541.73,164.18 542.4,164.3C543.07,164.42 543.63,165.48 544.4,167.3C545.17,169.12 546.02,172.92 547,175.2C547.98,177.48 549.1,179.77 550.3,181C551.5,182.23 546.32,182.32 554.2,182.6C562.08,182.88 588.72,182.75 597.6,182.7C606.48,182.65 604.87,182.63 607.5,182.3C610.13,181.97 612.1,181.03 613.4,180.7C614.7,180.37 614.32,180.13 615.3,180.3C616.28,180.47 617.85,181.33 619.3,181.7C620.75,182.07 621.92,182.37 624,182.5C626.08,182.63 629.52,182.83 631.8,182.5C634.08,182.17 635.73,181.22 637.7,180.5C639.67,179.78 641.63,178.78 643.6,178.2C645.57,177.62 647.87,177.1 649.5,177C651.13,176.9 652.1,177.07 653.4,177.6C654.7,178.13 655.67,179.55 657.3,180.2C658.93,180.85 660.97,181.45 663.2,181.5C665.43,181.55 669.45,180.67 670.7,180.5" fill="none" stroke="#b35858" stroke-width="1.1" stroke-linejoin="round" stroke-linecap="round"/><rect x="379.4" y="6.5" width="305.1" height="184.9" fill="none" stroke="#8c8c8c" stroke-width="0.95"/><line x1="378.09999999999997" y1="182.9" x2="379.4" y2="182.9" stroke="#666" stroke-width="0.55"/><text x="377.2" y="185" text-anchor="end" style="font-family:'Liberation Sans',sans-serif;font-size:5px" fill="#1a1a1a">0</text><line x1="378.09999999999997" y1="139.2" x2="379.4" y2="139.2" stroke="#666" stroke-width="0.55"/><text x="377.2" y="141.3" text-anchor="end" style="font-family:'Liberation Sans',sans-serif;font-size:5px" fill="#1a1a1a">2500</text><line x1="378.09999999999997" y1="95.5" x2="379.4" y2="95.5" stroke="#666" stroke-width="0.55"/><text x="377.2" y="97.6" text-anchor="end" style="font-family:'Liberation Sans',sans-serif;font-size:5px" fill="#1a1a1a">5000</text><line x1="378.09999999999997" y1="51.8" x2="379.4" y2="51.8" stroke="#666" stroke-width="0.55"/><text x="377.2" y="53.9" text-anchor="end" style="font-family:'Liberation Sans',sans-serif;font-size:5px" fill="#1a1a1a">7500</text><line x1="378.09999999999997" y1="8.1" x2="379.4" y2="8.1" stroke="#666" stroke-width="0.55"/><text x="377.2" y="10.2" text-anchor="end" style="font-family:'Liberation Sans',sans-serif;font-size:5px" fill="#1a1a1a">10000</text><line x1="396.2" y1="191.4" x2="396.2" y2="192.7" stroke="#666" stroke-width="0.55"/><text transform="translate(398.8,193.8) rotate(-90)" text-anchor="end" style="font-family:'Liberation Sans',sans-serif;font-size:4.8px" fill="#1a1a1a">Feb 2017</text><line x1="404.71" y1="191.4" x2="404.71" y2="192.7" stroke="#666" stroke-width="0.55"/><text transform="translate(407.31,193.8) rotate(-90)" text-anchor="end" style="font-family:'Liberation Sans',sans-serif;font-size:4.8px" fill="#1a1a1a">May 2017</text><line x1="413.51" y1="191.4" x2="413.51" y2="192.7" stroke="#666" stroke-width="0.55"/><text transform="translate(416.11,193.8) rotate(-90)" text-anchor="end" style="font-family:'Liberation Sans',sans-serif;font-size:4.8px" fill="#1a1a1a">Aug 2017</text><line x1="422.31" y1="191.4" x2="422.31" y2="192.7" stroke="#666" stroke-width="0.55"/><text transform="translate(424.91,193.8) rotate(-90)" text-anchor="end" style="font-family:'Liberation Sans',sans-serif;font-size:4.8px" fill="#1a1a1a">Nov 2017</text><line x1="431.1" y1="191.4" x2="431.1" y2="192.7" stroke="#666" stroke-width="0.55"/><text transform="translate(433.7,193.8) rotate(-90)" text-anchor="end" style="font-family:'Liberation Sans',sans-serif;font-size:4.8px" fill="#1a1a1a">Feb 2018</text><line x1="439.62" y1="191.4" x2="439.62" y2="192.7" stroke="#666" stroke-width="0.55"/><text transform="translate(442.22,193.8) rotate(-90)" text-anchor="end" style="font-family:'Liberation Sans',sans-serif;font-size:4.8px" fill="#1a1a1a">May 2018</text><line x1="448.41" y1="191.4" x2="448.41" y2="192.7" stroke="#666" stroke-width="0.55"/><text transform="translate(451.01,193.8) rotate(-90)" text-anchor="end" style="font-family:'Liberation Sans',sans-serif;font-size:4.8px" fill="#1a1a1a">Aug 2018</text><line x1="457.21" y1="191.4" x2="457.21" y2="192.7" stroke="#666" stroke-width="0.55"/><text transform="translate(459.81,193.8) rotate(-90)" text-anchor="end" style="font-family:'Liberation Sans',sans-serif;font-size:4.8px" fill="#1a1a1a">Nov 2018</text><line x1="466.01" y1="191.4" x2="466.01" y2="192.7" stroke="#666" stroke-width="0.55"/><text transform="translate(468.61,193.8) rotate(-90)" text-anchor="end" style="font-family:'Liberation Sans',sans-serif;font-size:4.8px" fill="#1a1a1a">Feb 2019</text><line x1="474.52" y1="191.4" x2="474.52" y2="192.7" stroke="#666" stroke-width="0.55"/><text transform="translate(477.12,193.8) rotate(-90)" text-anchor="end" style="font-family:'Liberation Sans',sans-serif;font-size:4.8px" fill="#1a1a1a">May 2019</text><line x1="483.32" y1="191.4" x2="483.32" y2="192.7" stroke="#666" stroke-width="0.55"/><text transform="translate(485.92,193.8) rotate(-90)" text-anchor="end" style="font-family:'Liberation Sans',sans-serif;font-size:4.8px" fill="#1a1a1a">Aug 2019</text><line x1="492.12" y1="191.4" x2="492.12" y2="192.7" stroke="#666" stroke-width="0.55"/><text transform="translate(494.72,193.8) rotate(-90)" text-anchor="end" style="font-family:'Liberation Sans',sans-serif;font-size:4.8px" fill="#1a1a1a">Nov 2019</text><line x1="500.91" y1="191.4" x2="500.91" y2="192.7" stroke="#666" stroke-width="0.55"/><text transform="translate(503.51,193.8) rotate(-90)" text-anchor="end" style="font-family:'Liberation Sans',sans-serif;font-size:4.8px" fill="#1a1a1a">Feb 2020</text><line x1="509.52" y1="191.4" x2="509.52" y2="192.7" stroke="#666" stroke-width="0.55"/><text transform="translate(512.12,193.8) rotate(-90)" text-anchor="end" style="font-family:'Liberation Sans',sans-serif;font-size:4.8px" fill="#1a1a1a">May 2020</text><line x1="518.32" y1="191.4" x2="518.32" y2="192.7" stroke="#666" stroke-width="0.55"/><text transform="translate(520.92,193.8) rotate(-90)" text-anchor="end" style="font-family:'Liberation Sans',sans-serif;font-size:4.8px" fill="#1a1a1a">Aug 2020</text><line x1="527.12" y1="191.4" x2="527.12" y2="192.7" stroke="#666" stroke-width="0.55"/><text transform="translate(529.72,193.8) rotate(-90)" text-anchor="end" style="font-family:'Liberation Sans',sans-serif;font-size:4.8px" fill="#1a1a1a">Nov 2020</text><line x1="535.91" y1="191.4" x2="535.91" y2="192.7" stroke="#666" stroke-width="0.55"/><text transform="translate(538.51,193.8) rotate(-90)" text-anchor="end" style="font-family:'Liberation Sans',sans-serif;font-size:4.8px" fill="#1a1a1a">Feb 2021</text><line x1="544.42" y1="191.4" x2="544.42" y2="192.7" stroke="#666" stroke-width="0.55"/><text transform="translate(547.02,193.8) rotate(-90)" text-anchor="end" style="font-family:'Liberation Sans',sans-serif;font-size:4.8px" fill="#1a1a1a">May 2021</text><line x1="553.22" y1="191.4" x2="553.22" y2="192.7" stroke="#666" stroke-width="0.55"/><text transform="translate(555.82,193.8) rotate(-90)" text-anchor="end" style="font-family:'Liberation Sans',sans-serif;font-size:4.8px" fill="#1a1a1a">Aug 2021</text><line x1="562.02" y1="191.4" x2="562.02" y2="192.7" stroke="#666" stroke-width="0.55"/><text transform="translate(564.62,193.8) rotate(-90)" text-anchor="end" style="font-family:'Liberation Sans',sans-serif;font-size:4.8px" fill="#1a1a1a">Nov 2021</text><line x1="570.82" y1="191.4" x2="570.82" y2="192.7" stroke="#666" stroke-width="0.55"/><text transform="translate(573.42,193.8) rotate(-90)" text-anchor="end" style="font-family:'Liberation Sans',sans-serif;font-size:4.8px" fill="#1a1a1a">Feb 2022</text><line x1="579.33" y1="191.4" x2="579.33" y2="192.7" stroke="#666" stroke-width="0.55"/><text transform="translate(581.93,193.8) rotate(-90)" text-anchor="end" style="font-family:'Liberation Sans',sans-serif;font-size:4.8px" fill="#1a1a1a">May 2022</text><line x1="588.13" y1="191.4" x2="588.13" y2="192.7" stroke="#666" stroke-width="0.55"/><text transform="translate(590.73,193.8) rotate(-90)" text-anchor="end" style="font-family:'Liberation Sans',sans-serif;font-size:4.8px" fill="#1a1a1a">Aug 2022</text><line x1="596.93" y1="191.4" x2="596.93" y2="192.7" stroke="#666" stroke-width="0.55"/><text transform="translate(599.53,193.8) rotate(-90)" text-anchor="end" style="font-family:'Liberation Sans',sans-serif;font-size:4.8px" fill="#1a1a1a">Nov 2022</text><line x1="605.72" y1="191.4" x2="605.72" y2="192.7" stroke="#666" stroke-width="0.55"/><text transform="translate(608.32,193.8) rotate(-90)" text-anchor="end" style="font-family:'Liberation Sans',sans-serif;font-size:4.8px" fill="#1a1a1a">Feb 2023</text><line x1="614.23" y1="191.4" x2="614.23" y2="192.7" stroke="#666" stroke-width="0.55"/><text transform="translate(616.83,193.8) rotate(-90)" text-anchor="end" style="font-family:'Liberation Sans',sans-serif;font-size:4.8px" fill="#1a1a1a">May 2023</text><line x1="623.03" y1="191.4" x2="623.03" y2="192.7" stroke="#666" stroke-width="0.55"/><text transform="translate(625.63,193.8) rotate(-90)" text-anchor="end" style="font-family:'Liberation Sans',sans-serif;font-size:4.8px" fill="#1a1a1a">Aug 2023</text><line x1="631.83" y1="191.4" x2="631.83" y2="192.7" stroke="#666" stroke-width="0.55"/><text transform="translate(634.43,193.8) rotate(-90)" text-anchor="end" style="font-family:'Liberation Sans',sans-serif;font-size:4.8px" fill="#1a1a1a">Nov 2023</text><line x1="640.63" y1="191.4" x2="640.63" y2="192.7" stroke="#666" stroke-width="0.55"/><text transform="translate(643.23,193.8) rotate(-90)" text-anchor="end" style="font-family:'Liberation Sans',sans-serif;font-size:4.8px" fill="#1a1a1a">Feb 2024</text><line x1="649.23" y1="191.4" x2="649.23" y2="192.7" stroke="#666" stroke-width="0.55"/><text transform="translate(651.83,193.8) rotate(-90)" text-anchor="end" style="font-family:'Liberation Sans',sans-serif;font-size:4.8px" fill="#1a1a1a">May 2024</text><line x1="658.03" y1="191.4" x2="658.03" y2="192.7" stroke="#666" stroke-width="0.55"/><text transform="translate(660.63,193.8) rotate(-90)" text-anchor="end" style="font-family:'Liberation Sans',sans-serif;font-size:4.8px" fill="#1a1a1a">Aug 2024</text><line x1="666.83" y1="191.4" x2="666.83" y2="192.7" stroke="#666" stroke-width="0.55"/><text transform="translate(669.43,193.8) rotate(-90)" text-anchor="end" style="font-family:'Liberation Sans',sans-serif;font-size:4.8px" fill="#1a1a1a">Nov 2024</text><text transform="translate(359.8,93) rotate(-90)" text-anchor="middle" style="font-family:'Liberation Sans',sans-serif;font-size:5.5px" fill="#000">Moving average of CHIKV confirmed cases in Southeastern states</text><text x="345.4" y="9.0" style="font-family:'Liberation Sans',sans-serif;font-size:12.3px" fill="#000" class="big">C</text><text x="461.7" y="229.8" style="font-family:'Liberation Sans',sans-serif;font-size:5.8px" fill="#000">Southeast region</text><line x1="512.4" y1="227.8" x2="518.4" y2="227.8" stroke="#d9abab" stroke-width="1"/><text x="521.6" y="229.8" style="font-family:'Liberation Sans',sans-serif;font-size:5.8px" fill="#000">ES</text><line x1="532.8" y1="227.8" x2="538.8" y2="227.8" stroke="#486467" stroke-width="1"/><text x="542.4" y="229.8" style="font-family:'Liberation Sans',sans-serif;font-size:5.8px" fill="#000">MG</text><line x1="554.7" y1="227.8" x2="560.7" y2="227.8" stroke="#a0b5cc" stroke-width="1"/><text x="564.1" y="229.8" style="font-family:'Liberation Sans',sans-serif;font-size:5.8px" fill="#000">RJ</text><line x1="574.7" y1="227.8" x2="580.7" y2="227.8" stroke="#b35858" stroke-width="1"/><text x="584" y="229.8" style="font-family:'Liberation Sans',sans-serif;font-size:5.8px" fill="#000">SP</text><text x="-0.8" y="248.6" style="font-family:'Liberation Sans',sans-serif;font-size:10.6px" fill="#000" class="big">B</text><line x1="159.1" y1="260.3" x2="297.6" y2="260.3" stroke="#222" stroke-width="0.6"/><line x1="151.6" y1="441.1" x2="297.6" y2="457" stroke="#222" stroke-width="0.6"/><g stroke="#3a3a3a" stroke-width="0.35" stroke-linejoin="round"><path d="M56.4,316.3L58.8,313.4L59.3,310.4L61.1,306.4L65.2,303.4L71.6,301.7L74.5,301.1L75.1,290L75.7,288.5L74,280.4L74.5,278L75.1,273.9L82.1,272.8L86.2,271.6L88,274.5L91.5,278L95,277.4L99,275.1L103.7,271.6L107.2,272.8L108.4,278L109.6,285L113,288.5L114.2,285L117.2,285.6L120,280.4L125.3,280.1L125.8,281.9L127,284.8L131.7,288.9L136.9,291.8L135.2,297.6L133.9,300L130.4,307L127.5,314L128.8,317.8L128.1,324L113.6,323.9L110.7,322.7L107.2,319.8L104.3,319.8L101.4,324.5L95,327.5L92,326.8L88.5,328.5L83.9,326.2L78,322.7L73.4,319.2L64,318Z" fill="#84b4a2"/><path d="M56.4,316.3L64,318L73.4,319.2L78,322.7L83.9,326.2L88.5,328.5L92,326.8L95,327.5L89.7,328.5L85,331.5L80.4,334.4L75.1,333.2L71.6,333.8L70.4,330.3L68.1,328.5L64.6,329.1L61.7,326.8L59.3,323.9L57.6,319.2Z" fill="#84b4a2"/><path d="M103.7,271.6L101.4,266.4L98.5,261.7L102.6,263.4L107.2,264L113.6,261.1L117.2,258.8L118.9,257L120,257.6L120.7,261.1L121.8,263.4L120.7,267.5L121.8,272.5L125.3,276L125.3,280.1L120,280.4L117.2,285.6L114.2,285L113,288.5L109.6,285L108.4,278L107.2,272.8Z" fill="#84b4a2"/><path d="M125.3,276L127,274.3L131.7,272.5L138.1,270.8L143.4,269.6L145.1,271.4L148,273.7L151.5,277.2L155,284.8L157.4,287.1L159.7,284.2L162.6,280.7L166.7,277.8L169,280.1L171.4,281.9L174.9,284.2L179.6,286L183.6,287.1L182.7,293.3L180.6,300L178.1,303.5L175.4,305.3L172.5,307L174.2,309.3L171.9,314L169.6,319.9L166.1,326.9L163.7,328.6L145,327.4L134.5,326.3L131,322.8L128.8,317.8L127.5,314L130.4,307L133.9,300L135.2,297.6L136.9,291.8L131.7,288.9L127,284.8L125.8,281.9L125.3,280.1Z" fill="#84b4a2"/><path d="M145.1,271.4L148.6,270.8L153.9,270.2L156.8,265.5L159.1,260.3L160.9,264.3L162,269L164.4,271.9L166.7,273.7L166.7,277.8L162.6,280.7L159.7,284.2L157.4,287.1L155,284.8L151.5,277.2L148,273.7Z" fill="#84b4a2"/><path d="M95,327.5L101.4,324.5L104.3,319.8L107.2,319.8L110.7,322.7L113.6,323.9L113.8,330L115.4,334.4L119.9,335.5L120.8,338L120.3,341.4L118.8,345.5L118.5,347L115.6,347L111.4,345.6L105.7,342.8L100,341.4L97.3,340L96.1,335.5L96.1,329.7Z" fill="#84b4a2"/><path d="M175.4,305.3L178.9,311.7L180,319.9L182.4,326.9L184.2,331L182.7,335.3L183.7,340.4L184,344.4L180,343.8L175.4,345L170.7,343.8L167.2,343.2L163.1,342L163.5,335L163.7,328.6L166.1,326.9L169.6,319.9L171.9,314L174.2,309.3L172.5,307Z" fill="#84b4a2"/><path d="M113.6,323.9L128.1,324L128.8,317.8L131,322.8L134.5,326.3L145,327.4L163.7,328.6L163.5,335L163.1,342L163.2,342.8L161.8,348.5L159.6,353.4L156.8,358.4L151.8,363.4L150.4,367.6L148.3,365.5L142.6,364.8L137.6,363.4L131.2,366.2L128.4,364.1L127,359.8L119.9,358.4L118.5,351.3L118.5,347L118.8,345.5L120.3,341.4L120.8,338L119.9,335.5L115.4,334.4L113.8,330Z" fill="#d2bec0"/><path d="M183.6,287.1L187.7,287.7L190.8,289.7L191.3,292.8L192.9,294.3L194.9,292.8L199.5,293.8L204.1,295.3L200.5,298.4L199.5,302.5L199,306.6L199,310.7L197,313.2L193.4,313.7L189.3,316.3L186.8,318.8L185.7,325L184.2,331L182.4,326.9L180,319.9L178.9,311.7L175.4,305.3L178.1,303.5L180.6,300L182.7,293.3Z" fill="#748487"/><path d="M204.1,295.3L206.7,295.3L206.2,298.9L207.7,303.5L208.2,308.6L208.7,312.7L209.7,316.8L208.7,320.9L207.7,323.1L204.6,325.1L199.5,327.2L196.5,326.6L194.9,328.2L193.9,331.2L190.3,333.3L187.3,332.8L184.2,331L185.7,325L186.8,318.8L189.3,316.3L193.4,313.7L197,313.2L199,310.7L199,306.6L199.5,302.5L200.5,298.4Z" fill="#748487"/><path d="M206.7,295.3L210.8,295.3L213.8,295.8L217.9,298.4L221,301L224,304.5L223,306.6L221,309.6L218.9,312.7L218.6,315.5L217.9,317.8L209.7,316.8L208.7,312.7L208.2,308.6L207.7,303.5L206.2,298.9Z" fill="#748487"/><path d="M224,304.5L228.1,305.5L232.2,306.1L234.3,307.1L235.3,309.6L235.8,312.7L230.2,312.7L226.1,311.7L224,313.7L220.5,313L218.9,312.7L221,309.6L223,306.6Z" fill="#748487"/><path d="M235.8,312.7L236.3,316.8L230.7,318.3L226.1,319.9L222,317.8L217.9,317.8L218.6,315.5L218.9,312.7L220.5,313L224,313.7L226.1,311.7L230.2,312.7Z" fill="#748487"/><path d="M236.3,316.8L235.8,320.9L230,321.5L226,322.8L221,325L215.9,323.1L211.8,324L209.7,325.6L207.7,323.1L208.7,320.9L209.7,316.8L217.9,317.8L222,317.8L226.1,319.9L230.7,318.3Z" fill="#748487"/><path d="M235.8,320.9L234.3,324.1L231.7,327.2L227,328.5L222,327.5L221,325L226,322.8L230,321.5Z" fill="#748487"/><path d="M231.7,327.2L229.2,330.2L226.1,333.3L224,336.4L223,333.3L222,330.2L222,327.5L227,328.5Z" fill="#748487"/><path d="M224,336.4L222,340.4L220,343L218.4,344L217.4,346.6L217.4,350.7L216.9,354.7L216.4,358.8L215.6,363L215.1,367.2L209.8,367.2L210.4,362.5L212.7,359L210.4,357.3L204.6,355.5L199.9,353.2L196.4,351.4L192.9,349.7L189.4,350.8L184.7,353.8L182.4,352.6L183.2,350L184.7,348.6L184,344.4L183.7,340.4L182.7,335.3L184.2,331L187.3,332.8L190.3,333.3L193.9,331.2L194.9,328.2L196.5,326.6L199.5,327.2L204.6,325.1L207.7,323.1L209.7,325.6L211.8,324L215.9,323.1L221,325L222,327.5L222,330.2L223,333.3Z" fill="#748487"/><path d="M163.1,342L167.2,343.2L170.7,343.8L175.4,345L180,343.8L184,344.4L184.7,348.6L183.2,350L182.4,352.6L180,357.8L178.9,360.2L178.9,365.4L177.7,368.4L170.7,370.1L164.9,371.3L162.8,375L159.6,372.6L154,369.8L150.4,367.6L151.8,363.4L156.8,358.4L159.6,353.4L161.8,348.5L163.2,342.8Z" fill="#d2bec0"/><path d="M131.2,366.2L137.6,363.4L142.6,364.8L148.3,365.5L150.4,367.6L154,369.8L159.6,372.6L162.8,375L161.4,377.1L159,380L158,382.5L156.7,384.7L154,388.2L149.8,390.6L147,394.2L141.3,394.9L138.4,391.3L134.1,388.2L129.8,386.8L129.1,378.3L129.8,372.6Z" fill="#d2bec0"/><path d="M182.4,352.6L184.7,353.8L189.4,350.8L192.9,349.7L196.4,351.4L199.9,353.2L204.6,355.5L210.4,357.3L212.7,359L210.4,362.5L209.8,367.2L208.1,369.5L206.9,374.2L205.7,378.9L205.5,381.2L204.6,381.8L202.2,384.7L196.4,387L191.7,388.2L186.5,390L183,388.2L181.8,383.5L179.5,378.9L172.4,378.3L168.4,376.5L162.8,375L164.9,371.3L170.7,370.1L177.7,368.4L178.9,365.4L178.9,360.2L180,357.8Z" fill="#b67a78"/><path d="M209.8,367.2L215.1,367.2L213.3,371.9L212.2,376.5L210.4,380L208.7,382.4L205.5,381.2L205.7,378.9L206.9,374.2L208.1,369.5Z" fill="#b67a78"/><path d="M205.5,381.2L208.7,382.4L208.1,385.3L205.7,388.2L202.2,389.4L197.6,390L192.9,391.1L190,392.3L186.5,390L191.7,388.2L196.4,387L202.2,384.7L204.6,381.8Z" fill="#b67a78"/><path d="M162.8,375L168.4,376.5L172.4,378.3L179.5,378.9L181.8,383.5L183,388.2L186.5,390L190,392.3L188.1,394.2L182.4,397L176.7,399.9L174.6,402L168.2,395.6L166.8,392L162.6,389.9L154.8,389.2L149.8,390.6L154,388.2L156.7,384.7L158,382.5L159,380L161.4,377.1Z" fill="#b67a78"/><path d="M149.8,390.6L154.8,389.2L162.6,389.9L166.8,392L168.2,395.6L174.6,402L173.9,405.5L168.2,406.2L162.6,405.5L156.9,407.7L149.8,406.2L149.1,404.1L146.2,402.7L146.5,398L147,394.2Z" fill="#bcc5d0"/><path d="M149.8,406.2L156.9,407.7L162.6,405.5L168.2,406.2L173.9,405.5L174.6,411.9L172.5,416.2L168.9,419L168.2,420.4L167.5,417.6L164,413.3L156.9,410.5L149.8,410.5Z" fill="#bcc5d0"/><path d="M149.8,410.5L156.9,410.5L164,413.3L167.5,417.6L168.2,420.4L167.3,423.3L165.9,426L163.8,429L160.8,432.2L157.8,435.2L155.2,438L152.8,440.4L150.8,442.2L151.2,439.6L150.5,436L144.1,431.1L137,428.2L131.3,425.4L134.2,422.6L138.4,416.9L144.1,412.6Z" fill="#bcc5d0"/><path d="M174.2,355.2L178.2,355.2L178.2,358.2L174.2,358.2Z" fill="#d2bec0"/><path d="M163.3,426.2 L164.6,426.9 L160.2,431.9 L157.3,434.3 L156.4,433.7 L159.6,430 Z" fill="#fff" stroke="#3a3a3a" stroke-width="0.3"/><circle cx="218.4" cy="367.4" r="0.45" fill="#888"/></g><g style="font-family:'Liberation Sans',sans-serif;font-size:3.2px;font-weight:bold" fill="#111" text-anchor="middle"><text x="71.6" y="327.5">AC</text><text x="98.5" y="303.2">AM</text><text x="113.6" y="273.5">RR</text><text x="157.1" y="276.8">AP</text><text x="152.1" y="302.4">PA</text><text x="106.6" y="335.3">RO</text><text x="174" y="332">TO</text><text x="188.3" y="307.8">MA</text><text x="199" y="318.7">PI</text><text x="213.8" y="307.8">CE</text><text x="228" y="311.3">RN</text><text x="227.1" y="317.2">PB</text><text x="222" y="322.8">PE</text><text x="227.6" y="328.9">AL</text><text x="224" y="333.7">SE</text><text x="204.6" y="342.9">BA</text><text x="139.2" y="345.1">MT</text><text x="168.4" y="359.7">GO</text><text x="176.3" y="358.6">DF</text><text x="144" y="380.6">MS</text><text x="190.5" y="371.2">MG</text><text x="209" y="376.7">ES</text><text x="199.9" y="388.9">RJ</text><text x="171.9" y="389.3">SP</text><text x="159" y="400.3">PR</text><text x="164" y="413.4">SC</text><text x="150.5" y="424.7">RS</text></g><rect x="81" y="407.4" width="43.8" height="2.8" fill="#fff" stroke="#000" stroke-width="0.4"/><rect x="81" y="407.4" width="9.1" height="2.8" fill="#000"/><rect x="98.5" y="407.4" width="8.8" height="2.8" fill="#000"/><rect x="116.1" y="407.4" width="8.7" height="2.8" fill="#000"/><text x="126.5" y="410.4" style="font-family:'Liberation Sans',sans-serif;font-size:4.4px" fill="#000">1000 Km</text><circle cx="102.6" cy="402" r="4.4" fill="none" stroke="#000" stroke-width="0.45"/><path d="M102.4,395.6 L104.6,404.8 L102.4,403.2 Z" fill="#000"/><path d="M102.4,395.6 L100.2,404.8 L102.4,403.2 Z" fill="#fff" stroke="#000" stroke-width="0.3"/><text x="102.4" y="395" text-anchor="middle" style="font-family:'Liberation Sans',sans-serif;font-size:3.6px;font-weight:bold" fill="#000">N</text><rect x="297.6" y="260.3" width="348.7" height="196.9" fill="#fff" stroke="#222" stroke-width="0.7"/><rect x="308" y="269.6" width="80.5" height="6.9" fill="#fff" stroke="#444" stroke-width="0.75"/><text x="348.25" y="274.5" text-anchor="middle" style="font-family:'Liberation Sans',sans-serif;font-size:3.9px" fill="#111">2017</text><g transform="translate(292.06,190.25) scale(0.35)" stroke="#333" stroke-width="1.29" stroke-linejoin="round"><path d="M56.4,316.3L58.8,313.4L59.3,310.4L61.1,306.4L65.2,303.4L71.6,301.7L74.5,301.1L75.1,290L75.7,288.5L74,280.4L74.5,278L75.1,273.9L82.1,272.8L86.2,271.6L88,274.5L91.5,278L95,277.4L99,275.1L103.7,271.6L107.2,272.8L108.4,278L109.6,285L113,288.5L114.2,285L117.2,285.6L120,280.4L125.3,280.1L125.8,281.9L127,284.8L131.7,288.9L136.9,291.8L135.2,297.6L133.9,300L130.4,307L127.5,314L128.8,317.8L128.1,324L113.6,323.9L110.7,322.7L107.2,319.8L104.3,319.8L101.4,324.5L95,327.5L92,326.8L88.5,328.5L83.9,326.2L78,322.7L73.4,319.2L64,318Z" fill="#c7e7c0"/><path d="M56.4,316.3L64,318L73.4,319.2L78,322.7L83.9,326.2L88.5,328.5L92,326.8L95,327.5L89.7,328.5L85,331.5L80.4,334.4L75.1,333.2L71.6,333.8L70.4,330.3L68.1,328.5L64.6,329.1L61.7,326.8L59.3,323.9L57.6,319.2Z" fill="#c7e7c0"/><path d="M103.7,271.6L101.4,266.4L98.5,261.7L102.6,263.4L107.2,264L113.6,261.1L117.2,258.8L118.9,257L120,257.6L120.7,261.1L121.8,263.4L120.7,267.5L121.8,272.5L125.3,276L125.3,280.1L120,280.4L117.2,285.6L114.2,285L113,288.5L109.6,285L108.4,278L107.2,272.8Z" fill="#7f0000"/><path d="M125.3,276L127,274.3L131.7,272.5L138.1,270.8L143.4,269.6L145.1,271.4L148,273.7L151.5,277.2L155,284.8L157.4,287.1L159.7,284.2L162.6,280.7L166.7,277.8L169,280.1L171.4,281.9L174.9,284.2L179.6,286L183.6,287.1L182.7,293.3L180.6,300L178.1,303.5L175.4,305.3L172.5,307L174.2,309.3L171.9,314L169.6,319.9L166.1,326.9L163.7,328.6L145,327.4L134.5,326.3L131,322.8L128.8,317.8L127.5,314L130.4,307L133.9,300L135.2,297.6L136.9,291.8L131.7,288.9L127,284.8L125.8,281.9L125.3,280.1Z" fill="#f98c51"/><path d="M145.1,271.4L148.6,270.8L153.9,270.2L156.8,265.5L159.1,260.3L160.9,264.3L162,269L164.4,271.9L166.7,273.7L166.7,277.8L162.6,280.7L159.7,284.2L157.4,287.1L155,284.8L151.5,277.2L148,273.7Z" fill="#93bb93"/><path d="M95,327.5L101.4,324.5L104.3,319.8L107.2,319.8L110.7,322.7L113.6,323.9L113.8,330L115.4,334.4L119.9,335.5L120.8,338L120.3,341.4L118.8,345.5L118.5,347L115.6,347L111.4,345.6L105.7,342.8L100,341.4L97.3,340L96.1,335.5L96.1,329.7Z" fill="#c7e7c0"/><path d="M175.4,305.3L178.9,311.7L180,319.9L182.4,326.9L184.2,331L182.7,335.3L183.7,340.4L184,344.4L180,343.8L175.4,345L170.7,343.8L167.2,343.2L163.1,342L163.5,335L163.7,328.6L166.1,326.9L169.6,319.9L171.9,314L174.2,309.3L172.5,307Z" fill="#d12e2b"/><path d="M113.6,323.9L128.1,324L128.8,317.8L131,322.8L134.5,326.3L145,327.4L163.7,328.6L163.5,335L163.1,342L163.2,342.8L161.8,348.5L159.6,353.4L156.8,358.4L151.8,363.4L150.4,367.6L148.3,365.5L142.6,364.8L137.6,363.4L131.2,366.2L128.4,364.1L127,359.8L119.9,358.4L118.5,351.3L118.5,347L118.8,345.5L120.3,341.4L120.8,338L119.9,335.5L115.4,334.4L113.8,330Z" fill="#d4603f"/><path d="M183.6,287.1L187.7,287.7L190.8,289.7L191.3,292.8L192.9,294.3L194.9,292.8L199.5,293.8L204.1,295.3L200.5,298.4L199.5,302.5L199,306.6L199,310.7L197,313.2L193.4,313.7L189.3,316.3L186.8,318.8L185.7,325L184.2,331L182.4,326.9L180,319.9L178.9,311.7L175.4,305.3L178.1,303.5L180.6,300L182.7,293.3Z" fill="#f98c51"/><path d="M204.1,295.3L206.7,295.3L206.2,298.9L207.7,303.5L208.2,308.6L208.7,312.7L209.7,316.8L208.7,320.9L207.7,323.1L204.6,325.1L199.5,327.2L196.5,326.6L194.9,328.2L193.9,331.2L190.3,333.3L187.3,332.8L184.2,331L185.7,325L186.8,318.8L189.3,316.3L193.4,313.7L197,313.2L199,310.7L199,306.6L199.5,302.5L200.5,298.4Z" fill="#d12e2b"/><path d="M206.7,295.3L210.8,295.3L213.8,295.8L217.9,298.4L221,301L224,304.5L223,306.6L221,309.6L218.9,312.7L218.6,315.5L217.9,317.8L209.7,316.8L208.7,312.7L208.2,308.6L207.7,303.5L206.2,298.9Z" fill="#921d20"/><path d="M224,304.5L228.1,305.5L232.2,306.1L234.3,307.1L235.3,309.6L235.8,312.7L230.2,312.7L226.1,311.7L224,313.7L220.5,313L218.9,312.7L221,309.6L223,306.6Z" fill="#93bb93"/><path d="M235.8,312.7L236.3,316.8L230.7,318.3L226.1,319.9L222,317.8L217.9,317.8L218.6,315.5L218.9,312.7L220.5,313L224,313.7L226.1,311.7L230.2,312.7Z" fill="#fde18c"/><path d="M236.3,316.8L235.8,320.9L230,321.5L226,322.8L221,325L215.9,323.1L211.8,324L209.7,325.6L207.7,323.1L208.7,320.9L209.7,316.8L217.9,317.8L222,317.8L226.1,319.9L230.7,318.3Z" fill="#93bb93"/><path d="M235.8,320.9L234.3,324.1L231.7,327.2L227,328.5L222,327.5L221,325L226,322.8L230,321.5Z" fill="#93bb93"/><path d="M231.7,327.2L229.2,330.2L226.1,333.3L224,336.4L223,333.3L222,330.2L222,327.5L227,328.5Z" fill="#93bb93"/><path d="M224,336.4L222,340.4L220,343L218.4,344L217.4,346.6L217.4,350.7L216.9,354.7L216.4,358.8L215.6,363L215.1,367.2L209.8,367.2L210.4,362.5L212.7,359L210.4,357.3L204.6,355.5L199.9,353.2L196.4,351.4L192.9,349.7L189.4,350.8L184.7,353.8L182.4,352.6L183.2,350L184.7,348.6L184,344.4L183.7,340.4L182.7,335.3L184.2,331L187.3,332.8L190.3,333.3L193.9,331.2L194.9,328.2L196.5,326.6L199.5,327.2L204.6,325.1L207.7,323.1L209.7,325.6L211.8,324L215.9,323.1L221,325L222,327.5L222,330.2L223,333.3Z" fill="#fde18c"/><path d="M163.1,342L167.2,343.2L170.7,343.8L175.4,345L180,343.8L184,344.4L184.7,348.6L183.2,350L182.4,352.6L180,357.8L178.9,360.2L178.9,365.4L177.7,368.4L170.7,370.1L164.9,371.3L162.8,375L159.6,372.6L154,369.8L150.4,367.6L151.8,363.4L156.8,358.4L159.6,353.4L161.8,348.5L163.2,342.8Z" fill="#ffffff"/><path d="M131.2,366.2L137.6,363.4L142.6,364.8L148.3,365.5L150.4,367.6L154,369.8L159.6,372.6L162.8,375L161.4,377.1L159,380L158,382.5L156.7,384.7L154,388.2L149.8,390.6L147,394.2L141.3,394.9L138.4,391.3L134.1,388.2L129.8,386.8L129.1,378.3L129.8,372.6Z" fill="#c7e7c0"/><path d="M182.4,352.6L184.7,353.8L189.4,350.8L192.9,349.7L196.4,351.4L199.9,353.2L204.6,355.5L210.4,357.3L212.7,359L210.4,362.5L209.8,367.2L208.1,369.5L206.9,374.2L205.7,378.9L205.5,381.2L204.6,381.8L202.2,384.7L196.4,387L191.7,388.2L186.5,390L183,388.2L181.8,383.5L179.5,378.9L172.4,378.3L168.4,376.5L162.8,375L164.9,371.3L170.7,370.1L177.7,368.4L178.9,365.4L178.9,360.2L180,357.8Z" fill="#fdb986"/><path d="M209.8,367.2L215.1,367.2L213.3,371.9L212.2,376.5L210.4,380L208.7,382.4L205.5,381.2L205.7,378.9L206.9,374.2L208.1,369.5Z" fill="#93bb93"/><path d="M205.5,381.2L208.7,382.4L208.1,385.3L205.7,388.2L202.2,389.4L197.6,390L192.9,391.1L190,392.3L186.5,390L191.7,388.2L196.4,387L202.2,384.7L204.6,381.8Z" fill="#93bb93"/><path d="M162.8,375L168.4,376.5L172.4,378.3L179.5,378.9L181.8,383.5L183,388.2L186.5,390L190,392.3L188.1,394.2L182.4,397L176.7,399.9L174.6,402L168.2,395.6L166.8,392L162.6,389.9L154.8,389.2L149.8,390.6L154,388.2L156.7,384.7L158,382.5L159,380L161.4,377.1Z" fill="#c7e7c0"/><path d="M149.8,390.6L154.8,389.2L162.6,389.9L166.8,392L168.2,395.6L174.6,402L173.9,405.5L168.2,406.2L162.6,405.5L156.9,407.7L149.8,406.2L149.1,404.1L146.2,402.7L146.5,398L147,394.2Z" fill="#ffffff"/><path d="M149.8,406.2L156.9,407.7L162.6,405.5L168.2,406.2L173.9,405.5L174.6,411.9L172.5,416.2L168.9,419L168.2,420.4L167.5,417.6L164,413.3L156.9,410.5L149.8,410.5Z" fill="#ffffff"/><path d="M149.8,410.5L156.9,410.5L164,413.3L167.5,417.6L168.2,420.4L167.3,423.3L165.9,426L163.8,429L160.8,432.2L157.8,435.2L155.2,438L152.8,440.4L150.8,442.2L151.2,439.6L150.5,436L144.1,431.1L137,428.2L131.3,425.4L134.2,422.6L138.4,416.9L144.1,412.6Z" fill="#ffffff"/><path d="M174.2,355.2L178.2,355.2L178.2,358.2L174.2,358.2Z" fill="#ffffff"/></g><circle cx="379.7" cy="295.5" r="0.35" fill="#888"/><circle cx="384.5" cy="322.6" r="0.35" fill="#888"/><rect x="390.8" y="269.6" width="80.5" height="6.9" fill="#fff" stroke="#444" stroke-width="0.75"/><text x="431.05" y="274.5" text-anchor="middle" style="font-family:'Liberation Sans',sans-serif;font-size:3.9px" fill="#111">2018</text><g transform="translate(374.86,190.25) scale(0.35)" stroke="#333" stroke-width="1.29" stroke-linejoin="round"><path d="M56.4,316.3L58.8,313.4L59.3,310.4L61.1,306.4L65.2,303.4L71.6,301.7L74.5,301.1L75.1,290L75.7,288.5L74,280.4L74.5,278L75.1,273.9L82.1,272.8L86.2,271.6L88,274.5L91.5,278L95,277.4L99,275.1L103.7,271.6L107.2,272.8L108.4,278L109.6,285L113,288.5L114.2,285L117.2,285.6L120,280.4L125.3,280.1L125.8,281.9L127,284.8L131.7,288.9L136.9,291.8L135.2,297.6L133.9,300L130.4,307L127.5,314L128.8,317.8L128.1,324L113.6,323.9L110.7,322.7L107.2,319.8L104.3,319.8L101.4,324.5L95,327.5L92,326.8L88.5,328.5L83.9,326.2L78,322.7L73.4,319.2L64,318Z" fill="#ffffff"/><path d="M56.4,316.3L64,318L73.4,319.2L78,322.7L83.9,326.2L88.5,328.5L92,326.8L95,327.5L89.7,328.5L85,331.5L80.4,334.4L75.1,333.2L71.6,333.8L70.4,330.3L68.1,328.5L64.6,329.1L61.7,326.8L59.3,323.9L57.6,319.2Z" fill="#93bb93"/><path d="M103.7,271.6L101.4,266.4L98.5,261.7L102.6,263.4L107.2,264L113.6,261.1L117.2,258.8L118.9,257L120,257.6L120.7,261.1L121.8,263.4L120.7,267.5L121.8,272.5L125.3,276L125.3,280.1L120,280.4L117.2,285.6L114.2,285L113,288.5L109.6,285L108.4,278L107.2,272.8Z" fill="#c7e7c0"/><path d="M125.3,276L127,274.3L131.7,272.5L138.1,270.8L143.4,269.6L145.1,271.4L148,273.7L151.5,277.2L155,284.8L157.4,287.1L159.7,284.2L162.6,280.7L166.7,277.8L169,280.1L171.4,281.9L174.9,284.2L179.6,286L183.6,287.1L182.7,293.3L180.6,300L178.1,303.5L175.4,305.3L172.5,307L174.2,309.3L171.9,314L169.6,319.9L166.1,326.9L163.7,328.6L145,327.4L134.5,326.3L131,322.8L128.8,317.8L127.5,314L130.4,307L133.9,300L135.2,297.6L136.9,291.8L131.7,288.9L127,284.8L125.8,281.9L125.3,280.1Z" fill="#f98c51"/><path d="M145.1,271.4L148.6,270.8L153.9,270.2L156.8,265.5L159.1,260.3L160.9,264.3L162,269L164.4,271.9L166.7,273.7L166.7,277.8L162.6,280.7L159.7,284.2L157.4,287.1L155,284.8L151.5,277.2L148,273.7Z" fill="#93bb93"/><path d="M95,327.5L101.4,324.5L104.3,319.8L107.2,319.8L110.7,322.7L113.6,323.9L113.8,330L115.4,334.4L119.9,335.5L120.8,338L120.3,341.4L118.8,345.5L118.5,347L115.6,347L111.4,345.6L105.7,342.8L100,341.4L97.3,340L96.1,335.5L96.1,329.7Z" fill="#c7e7c0"/><path d="M175.4,305.3L178.9,311.7L180,319.9L182.4,326.9L184.2,331L182.7,335.3L183.7,340.4L184,344.4L180,343.8L175.4,345L170.7,343.8L167.2,343.2L163.1,342L163.5,335L163.7,328.6L166.1,326.9L169.6,319.9L171.9,314L174.2,309.3L172.5,307Z" fill="#c7e7c0"/><path d="M113.6,323.9L128.1,324L128.8,317.8L131,322.8L134.5,326.3L145,327.4L163.7,328.6L163.5,335L163.1,342L163.2,342.8L161.8,348.5L159.6,353.4L156.8,358.4L151.8,363.4L150.4,367.6L148.3,365.5L142.6,364.8L137.6,363.4L131.2,366.2L128.4,364.1L127,359.8L119.9,358.4L118.5,351.3L118.5,347L118.8,345.5L120.3,341.4L120.8,338L119.9,335.5L115.4,334.4L113.8,330Z" fill="#921d20"/><path d="M183.6,287.1L187.7,287.7L190.8,289.7L191.3,292.8L192.9,294.3L194.9,292.8L199.5,293.8L204.1,295.3L200.5,298.4L199.5,302.5L199,306.6L199,310.7L197,313.2L193.4,313.7L189.3,316.3L186.8,318.8L185.7,325L184.2,331L182.4,326.9L180,319.9L178.9,311.7L175.4,305.3L178.1,303.5L180.6,300L182.7,293.3Z" fill="#c7e7c0"/><path d="M204.1,295.3L206.7,295.3L206.2,298.9L207.7,303.5L208.2,308.6L208.7,312.7L209.7,316.8L208.7,320.9L207.7,323.1L204.6,325.1L199.5,327.2L196.5,326.6L194.9,328.2L193.9,331.2L190.3,333.3L187.3,332.8L184.2,331L185.7,325L186.8,318.8L189.3,316.3L193.4,313.7L197,313.2L199,310.7L199,306.6L199.5,302.5L200.5,298.4Z" fill="#93bb93"/><path d="M206.7,295.3L210.8,295.3L213.8,295.8L217.9,298.4L221,301L224,304.5L223,306.6L221,309.6L218.9,312.7L218.6,315.5L217.9,317.8L209.7,316.8L208.7,312.7L208.2,308.6L207.7,303.5L206.2,298.9Z" fill="#93bb93"/><path d="M224,304.5L228.1,305.5L232.2,306.1L234.3,307.1L235.3,309.6L235.8,312.7L230.2,312.7L226.1,311.7L224,313.7L220.5,313L218.9,312.7L221,309.6L223,306.6Z" fill="#93bb93"/><path d="M235.8,312.7L236.3,316.8L230.7,318.3L226.1,319.9L222,317.8L217.9,317.8L218.6,315.5L218.9,312.7L220.5,313L224,313.7L226.1,311.7L230.2,312.7Z" fill="#fde18c"/><path d="M236.3,316.8L235.8,320.9L230,321.5L226,322.8L221,325L215.9,323.1L211.8,324L209.7,325.6L207.7,323.1L208.7,320.9L209.7,316.8L217.9,317.8L222,317.8L226.1,319.9L230.7,318.3Z" fill="#c7e7c0"/><path d="M235.8,320.9L234.3,324.1L231.7,327.2L227,328.5L222,327.5L221,325L226,322.8L230,321.5Z" fill="#c7e7c0"/><path d="M231.7,327.2L229.2,330.2L226.1,333.3L224,336.4L223,333.3L222,330.2L222,327.5L227,328.5Z" fill="#93bb93"/><path d="M224,336.4L222,340.4L220,343L218.4,344L217.4,346.6L217.4,350.7L216.9,354.7L216.4,358.8L215.6,363L215.1,367.2L209.8,367.2L210.4,362.5L212.7,359L210.4,357.3L204.6,355.5L199.9,353.2L196.4,351.4L192.9,349.7L189.4,350.8L184.7,353.8L182.4,352.6L183.2,350L184.7,348.6L184,344.4L183.7,340.4L182.7,335.3L184.2,331L187.3,332.8L190.3,333.3L193.9,331.2L194.9,328.2L196.5,326.6L199.5,327.2L204.6,325.1L207.7,323.1L209.7,325.6L211.8,324L215.9,323.1L221,325L222,327.5L222,330.2L223,333.3Z" fill="#93bb93"/><path d="M163.1,342L167.2,343.2L170.7,343.8L175.4,345L180,343.8L184,344.4L184.7,348.6L183.2,350L182.4,352.6L180,357.8L178.9,360.2L178.9,365.4L177.7,368.4L170.7,370.1L164.9,371.3L162.8,375L159.6,372.6L154,369.8L150.4,367.6L151.8,363.4L156.8,358.4L159.6,353.4L161.8,348.5L163.2,342.8Z" fill="#ffffff"/><path d="M131.2,366.2L137.6,363.4L142.6,364.8L148.3,365.5L150.4,367.6L154,369.8L159.6,372.6L162.8,375L161.4,377.1L159,380L158,382.5L156.7,384.7L154,388.2L149.8,390.6L147,394.2L141.3,394.9L138.4,391.3L134.1,388.2L129.8,386.8L129.1,378.3L129.8,372.6Z" fill="#c7e7c0"/><path d="M182.4,352.6L184.7,353.8L189.4,350.8L192.9,349.7L196.4,351.4L199.9,353.2L204.6,355.5L210.4,357.3L212.7,359L210.4,362.5L209.8,367.2L208.1,369.5L206.9,374.2L205.7,378.9L205.5,381.2L204.6,381.8L202.2,384.7L196.4,387L191.7,388.2L186.5,390L183,388.2L181.8,383.5L179.5,378.9L172.4,378.3L168.4,376.5L162.8,375L164.9,371.3L170.7,370.1L177.7,368.4L178.9,365.4L178.9,360.2L180,357.8Z" fill="#fdb986"/><path d="M209.8,367.2L215.1,367.2L213.3,371.9L212.2,376.5L210.4,380L208.7,382.4L205.5,381.2L205.7,378.9L206.9,374.2L208.1,369.5Z" fill="#93bb93"/><path d="M205.5,381.2L208.7,382.4L208.1,385.3L205.7,388.2L202.2,389.4L197.6,390L192.9,391.1L190,392.3L186.5,390L191.7,388.2L196.4,387L202.2,384.7L204.6,381.8Z" fill="#d12e2b"/><path d="M162.8,375L168.4,376.5L172.4,378.3L179.5,378.9L181.8,383.5L183,388.2L186.5,390L190,392.3L188.1,394.2L182.4,397L176.7,399.9L174.6,402L168.2,395.6L166.8,392L162.6,389.9L154.8,389.2L149.8,390.6L154,388.2L156.7,384.7L158,382.5L159,380L161.4,377.1Z" fill="#ffffff"/><path d="M149.8,390.6L154.8,389.2L162.6,389.9L166.8,392L168.2,395.6L174.6,402L173.9,405.5L168.2,406.2L162.6,405.5L156.9,407.7L149.8,406.2L149.1,404.1L146.2,402.7L146.5,398L147,394.2Z" fill="#ffffff"/><path d="M149.8,406.2L156.9,407.7L162.6,405.5L168.2,406.2L173.9,405.5L174.6,411.9L172.5,416.2L168.9,419L168.2,420.4L167.5,417.6L164,413.3L156.9,410.5L149.8,410.5Z" fill="#ffffff"/><path d="M149.8,410.5L156.9,410.5L164,413.3L167.5,417.6L168.2,420.4L167.3,423.3L165.9,426L163.8,429L160.8,432.2L157.8,435.2L155.2,438L152.8,440.4L150.8,442.2L151.2,439.6L150.5,436L144.1,431.1L137,428.2L131.3,425.4L134.2,422.6L138.4,416.9L144.1,412.6Z" fill="#ffffff"/><path d="M174.2,355.2L178.2,355.2L178.2,358.2L174.2,358.2Z" fill="#ffffff"/></g><circle cx="462.5" cy="295.5" r="0.35" fill="#888"/><circle cx="467.3" cy="322.6" r="0.35" fill="#888"/><rect x="473.6" y="269.6" width="80.5" height="6.9" fill="#fff" stroke="#444" stroke-width="0.75"/><text x="513.85" y="274.5" text-anchor="middle" style="font-family:'Liberation Sans',sans-serif;font-size:3.9px" fill="#111">2019</text><g transform="translate(457.66,190.25) scale(0.35)" stroke="#333" stroke-width="1.29" stroke-linejoin="round"><path d="M56.4,316.3L58.8,313.4L59.3,310.4L61.1,306.4L65.2,303.4L71.6,301.7L74.5,301.1L75.1,290L75.7,288.5L74,280.4L74.5,278L75.1,273.9L82.1,272.8L86.2,271.6L88,274.5L91.5,278L95,277.4L99,275.1L103.7,271.6L107.2,272.8L108.4,278L109.6,285L113,288.5L114.2,285L117.2,285.6L120,280.4L125.3,280.1L125.8,281.9L127,284.8L131.7,288.9L136.9,291.8L135.2,297.6L133.9,300L130.4,307L127.5,314L128.8,317.8L128.1,324L113.6,323.9L110.7,322.7L107.2,319.8L104.3,319.8L101.4,324.5L95,327.5L92,326.8L88.5,328.5L83.9,326.2L78,322.7L73.4,319.2L64,318Z" fill="#c7e7c0"/><path d="M56.4,316.3L64,318L73.4,319.2L78,322.7L83.9,326.2L88.5,328.5L92,326.8L95,327.5L89.7,328.5L85,331.5L80.4,334.4L75.1,333.2L71.6,333.8L70.4,330.3L68.1,328.5L64.6,329.1L61.7,326.8L59.3,323.9L57.6,319.2Z" fill="#c7e7c0"/><path d="M103.7,271.6L101.4,266.4L98.5,261.7L102.6,263.4L107.2,264L113.6,261.1L117.2,258.8L118.9,257L120,257.6L120.7,261.1L121.8,263.4L120.7,267.5L121.8,272.5L125.3,276L125.3,280.1L120,280.4L117.2,285.6L114.2,285L113,288.5L109.6,285L108.4,278L107.2,272.8Z" fill="#c7e7c0"/><path d="M125.3,276L127,274.3L131.7,272.5L138.1,270.8L143.4,269.6L145.1,271.4L148,273.7L151.5,277.2L155,284.8L157.4,287.1L159.7,284.2L162.6,280.7L166.7,277.8L169,280.1L171.4,281.9L174.9,284.2L179.6,286L183.6,287.1L182.7,293.3L180.6,300L178.1,303.5L175.4,305.3L172.5,307L174.2,309.3L171.9,314L169.6,319.9L166.1,326.9L163.7,328.6L145,327.4L134.5,326.3L131,322.8L128.8,317.8L127.5,314L130.4,307L133.9,300L135.2,297.6L136.9,291.8L131.7,288.9L127,284.8L125.8,281.9L125.3,280.1Z" fill="#93bb93"/><path d="M145.1,271.4L148.6,270.8L153.9,270.2L156.8,265.5L159.1,260.3L160.9,264.3L162,269L164.4,271.9L166.7,273.7L166.7,277.8L162.6,280.7L159.7,284.2L157.4,287.1L155,284.8L151.5,277.2L148,273.7Z" fill="#c7e7c0"/><path d="M95,327.5L101.4,324.5L104.3,319.8L107.2,319.8L110.7,322.7L113.6,323.9L113.8,330L115.4,334.4L119.9,335.5L120.8,338L120.3,341.4L118.8,345.5L118.5,347L115.6,347L111.4,345.6L105.7,342.8L100,341.4L97.3,340L96.1,335.5L96.1,329.7Z" fill="#c7e7c0"/><path d="M175.4,305.3L178.9,311.7L180,319.9L182.4,326.9L184.2,331L182.7,335.3L183.7,340.4L184,344.4L180,343.8L175.4,345L170.7,343.8L167.2,343.2L163.1,342L163.5,335L163.7,328.6L166.1,326.9L169.6,319.9L171.9,314L174.2,309.3L172.5,307Z" fill="#c7e7c0"/><path d="M113.6,323.9L128.1,324L128.8,317.8L131,322.8L134.5,326.3L145,327.4L163.7,328.6L163.5,335L163.1,342L163.2,342.8L161.8,348.5L159.6,353.4L156.8,358.4L151.8,363.4L150.4,367.6L148.3,365.5L142.6,364.8L137.6,363.4L131.2,366.2L128.4,364.1L127,359.8L119.9,358.4L118.5,351.3L118.5,347L118.8,345.5L120.3,341.4L120.8,338L119.9,335.5L115.4,334.4L113.8,330Z" fill="#c7e7c0"/><path d="M183.6,287.1L187.7,287.7L190.8,289.7L191.3,292.8L192.9,294.3L194.9,292.8L199.5,293.8L204.1,295.3L200.5,298.4L199.5,302.5L199,306.6L199,310.7L197,313.2L193.4,313.7L189.3,316.3L186.8,318.8L185.7,325L184.2,331L182.4,326.9L180,319.9L178.9,311.7L175.4,305.3L178.1,303.5L180.6,300L182.7,293.3Z" fill="#c7e7c0"/><path d="M204.1,295.3L206.7,295.3L206.2,298.9L207.7,303.5L208.2,308.6L208.7,312.7L209.7,316.8L208.7,320.9L207.7,323.1L204.6,325.1L199.5,327.2L196.5,326.6L194.9,328.2L193.9,331.2L190.3,333.3L187.3,332.8L184.2,331L185.7,325L186.8,318.8L189.3,316.3L193.4,313.7L197,313.2L199,310.7L199,306.6L199.5,302.5L200.5,298.4Z" fill="#93bb93"/><path d="M206.7,295.3L210.8,295.3L213.8,295.8L217.9,298.4L221,301L224,304.5L223,306.6L221,309.6L218.9,312.7L218.6,315.5L217.9,317.8L209.7,316.8L208.7,312.7L208.2,308.6L207.7,303.5L206.2,298.9Z" fill="#93bb93"/><path d="M224,304.5L228.1,305.5L232.2,306.1L234.3,307.1L235.3,309.6L235.8,312.7L230.2,312.7L226.1,311.7L224,313.7L220.5,313L218.9,312.7L221,309.6L223,306.6Z" fill="#d12e2b"/><path d="M235.8,312.7L236.3,316.8L230.7,318.3L226.1,319.9L222,317.8L217.9,317.8L218.6,315.5L218.9,312.7L220.5,313L224,313.7L226.1,311.7L230.2,312.7Z" fill="#d12e2b"/><path d="M236.3,316.8L235.8,320.9L230,321.5L226,322.8L221,325L215.9,323.1L211.8,324L209.7,325.6L207.7,323.1L208.7,320.9L209.7,316.8L217.9,317.8L222,317.8L226.1,319.9L230.7,318.3Z" fill="#93bb93"/><path d="M235.8,320.9L234.3,324.1L231.7,327.2L227,328.5L222,327.5L221,325L226,322.8L230,321.5Z" fill="#fde18c"/><path d="M231.7,327.2L229.2,330.2L226.1,333.3L224,336.4L223,333.3L222,330.2L222,327.5L227,328.5Z" fill="#fde18c"/><path d="M224,336.4L222,340.4L220,343L218.4,344L217.4,346.6L217.4,350.7L216.9,354.7L216.4,358.8L215.6,363L215.1,367.2L209.8,367.2L210.4,362.5L212.7,359L210.4,357.3L204.6,355.5L199.9,353.2L196.4,351.4L192.9,349.7L189.4,350.8L184.7,353.8L182.4,352.6L183.2,350L184.7,348.6L184,344.4L183.7,340.4L182.7,335.3L184.2,331L187.3,332.8L190.3,333.3L193.9,331.2L194.9,328.2L196.5,326.6L199.5,327.2L204.6,325.1L207.7,323.1L209.7,325.6L211.8,324L215.9,323.1L221,325L222,327.5L222,330.2L223,333.3Z" fill="#fde18c"/><path d="M163.1,342L167.2,343.2L170.7,343.8L175.4,345L180,343.8L184,344.4L184.7,348.6L183.2,350L182.4,352.6L180,357.8L178.9,360.2L178.9,365.4L177.7,368.4L170.7,370.1L164.9,371.3L162.8,375L159.6,372.6L154,369.8L150.4,367.6L151.8,363.4L156.8,358.4L159.6,353.4L161.8,348.5L163.2,342.8Z" fill="#ffffff"/><path d="M131.2,366.2L137.6,363.4L142.6,364.8L148.3,365.5L150.4,367.6L154,369.8L159.6,372.6L162.8,375L161.4,377.1L159,380L158,382.5L156.7,384.7L154,388.2L149.8,390.6L147,394.2L141.3,394.9L138.4,391.3L134.1,388.2L129.8,386.8L129.1,378.3L129.8,372.6Z" fill="#c7e7c0"/><path d="M182.4,352.6L184.7,353.8L189.4,350.8L192.9,349.7L196.4,351.4L199.9,353.2L204.6,355.5L210.4,357.3L212.7,359L210.4,362.5L209.8,367.2L208.1,369.5L206.9,374.2L205.7,378.9L205.5,381.2L204.6,381.8L202.2,384.7L196.4,387L191.7,388.2L186.5,390L183,388.2L181.8,383.5L179.5,378.9L172.4,378.3L168.4,376.5L162.8,375L164.9,371.3L170.7,370.1L177.7,368.4L178.9,365.4L178.9,360.2L180,357.8Z" fill="#c7e7c0"/><path d="M209.8,367.2L215.1,367.2L213.3,371.9L212.2,376.5L210.4,380L208.7,382.4L205.5,381.2L205.7,378.9L206.9,374.2L208.1,369.5Z" fill="#fde18c"/><path d="M205.5,381.2L208.7,382.4L208.1,385.3L205.7,388.2L202.2,389.4L197.6,390L192.9,391.1L190,392.3L186.5,390L191.7,388.2L196.4,387L202.2,384.7L204.6,381.8Z" fill="#921d20"/><path d="M162.8,375L168.4,376.5L172.4,378.3L179.5,378.9L181.8,383.5L183,388.2L186.5,390L190,392.3L188.1,394.2L182.4,397L176.7,399.9L174.6,402L168.2,395.6L166.8,392L162.6,389.9L154.8,389.2L149.8,390.6L154,388.2L156.7,384.7L158,382.5L159,380L161.4,377.1Z" fill="#ffffff"/><path d="M149.8,390.6L154.8,389.2L162.6,389.9L166.8,392L168.2,395.6L174.6,402L173.9,405.5L168.2,406.2L162.6,405.5L156.9,407.7L149.8,406.2L149.1,404.1L146.2,402.7L146.5,398L147,394.2Z" fill="#ffffff"/><path d="M149.8,406.2L156.9,407.7L162.6,405.5L168.2,406.2L173.9,405.5L174.6,411.9L172.5,416.2L168.9,419L168.2,420.4L167.5,417.6L164,413.3L156.9,410.5L149.8,410.5Z" fill="#ffffff"/><path d="M149.8,410.5L156.9,410.5L164,413.3L167.5,417.6L168.2,420.4L167.3,423.3L165.9,426L163.8,429L160.8,432.2L157.8,435.2L155.2,438L152.8,440.4L150.8,442.2L151.2,439.6L150.5,436L144.1,431.1L137,428.2L131.3,425.4L134.2,422.6L138.4,416.9L144.1,412.6Z" fill="#ffffff"/><path d="M174.2,355.2L178.2,355.2L178.2,358.2L174.2,358.2Z" fill="#ffffff"/></g><circle cx="545.3" cy="295.5" r="0.35" fill="#888"/><circle cx="550.1" cy="322.6" r="0.35" fill="#888"/><rect x="556.4" y="269.6" width="80.5" height="6.9" fill="#fff" stroke="#444" stroke-width="0.75"/><text x="596.65" y="274.5" text-anchor="middle" style="font-family:'Liberation Sans',sans-serif;font-size:3.9px" fill="#111">2020</text><g transform="translate(540.46,190.25) scale(0.35)" stroke="#333" stroke-width="1.29" stroke-linejoin="round"><path d="M56.4,316.3L58.8,313.4L59.3,310.4L61.1,306.4L65.2,303.4L71.6,301.7L74.5,301.1L75.1,290L75.7,288.5L74,280.4L74.5,278L75.1,273.9L82.1,272.8L86.2,271.6L88,274.5L91.5,278L95,277.4L99,275.1L103.7,271.6L107.2,272.8L108.4,278L109.6,285L113,288.5L114.2,285L117.2,285.6L120,280.4L125.3,280.1L125.8,281.9L127,284.8L131.7,288.9L136.9,291.8L135.2,297.6L133.9,300L130.4,307L127.5,314L128.8,317.8L128.1,324L113.6,323.9L110.7,322.7L107.2,319.8L104.3,319.8L101.4,324.5L95,327.5L92,326.8L88.5,328.5L83.9,326.2L78,322.7L73.4,319.2L64,318Z" fill="#ffffff"/><path d="M56.4,316.3L64,318L73.4,319.2L78,322.7L83.9,326.2L88.5,328.5L92,326.8L95,327.5L89.7,328.5L85,331.5L80.4,334.4L75.1,333.2L71.6,333.8L70.4,330.3L68.1,328.5L64.6,329.1L61.7,326.8L59.3,323.9L57.6,319.2Z" fill="#c7e7c0"/><path d="M103.7,271.6L101.4,266.4L98.5,261.7L102.6,263.4L107.2,264L113.6,261.1L117.2,258.8L118.9,257L120,257.6L120.7,261.1L121.8,263.4L120.7,267.5L121.8,272.5L125.3,276L125.3,280.1L120,280.4L117.2,285.6L114.2,285L113,288.5L109.6,285L108.4,278L107.2,272.8Z" fill="#c7e7c0"/><path d="M125.3,276L127,274.3L131.7,272.5L138.1,270.8L143.4,269.6L145.1,271.4L148,273.7L151.5,277.2L155,284.8L157.4,287.1L159.7,284.2L162.6,280.7L166.7,277.8L169,280.1L171.4,281.9L174.9,284.2L179.6,286L183.6,287.1L182.7,293.3L180.6,300L178.1,303.5L175.4,305.3L172.5,307L174.2,309.3L171.9,314L169.6,319.9L166.1,326.9L163.7,328.6L145,327.4L134.5,326.3L131,322.8L128.8,317.8L127.5,314L130.4,307L133.9,300L135.2,297.6L136.9,291.8L131.7,288.9L127,284.8L125.8,281.9L125.3,280.1Z" fill="#c7e7c0"/><path d="M145.1,271.4L148.6,270.8L153.9,270.2L156.8,265.5L159.1,260.3L160.9,264.3L162,269L164.4,271.9L166.7,273.7L166.7,277.8L162.6,280.7L159.7,284.2L157.4,287.1L155,284.8L151.5,277.2L148,273.7Z" fill="#ffffff"/><path d="M95,327.5L101.4,324.5L104.3,319.8L107.2,319.8L110.7,322.7L113.6,323.9L113.8,330L115.4,334.4L119.9,335.5L120.8,338L120.3,341.4L118.8,345.5L118.5,347L115.6,347L111.4,345.6L105.7,342.8L100,341.4L97.3,340L96.1,335.5L96.1,329.7Z" fill="#c7e7c0"/><path d="M175.4,305.3L178.9,311.7L180,319.9L182.4,326.9L184.2,331L182.7,335.3L183.7,340.4L184,344.4L180,343.8L175.4,345L170.7,343.8L167.2,343.2L163.1,342L163.5,335L163.7,328.6L166.1,326.9L169.6,319.9L171.9,314L174.2,309.3L172.5,307Z" fill="#c7e7c0"/><path d="M113.6,323.9L128.1,324L128.8,317.8L131,322.8L134.5,326.3L145,327.4L163.7,328.6L163.5,335L163.1,342L163.2,342.8L161.8,348.5L159.6,353.4L156.8,358.4L151.8,363.4L150.4,367.6L148.3,365.5L142.6,364.8L137.6,363.4L131.2,366.2L128.4,364.1L127,359.8L119.9,358.4L118.5,351.3L118.5,347L118.8,345.5L120.3,341.4L120.8,338L119.9,335.5L115.4,334.4L113.8,330Z" fill="#c7e7c0"/><path d="M183.6,287.1L187.7,287.7L190.8,289.7L191.3,292.8L192.9,294.3L194.9,292.8L199.5,293.8L204.1,295.3L200.5,298.4L199.5,302.5L199,306.6L199,310.7L197,313.2L193.4,313.7L189.3,316.3L186.8,318.8L185.7,325L184.2,331L182.4,326.9L180,319.9L178.9,311.7L175.4,305.3L178.1,303.5L180.6,300L182.7,293.3Z" fill="#c7e7c0"/><path d="M204.1,295.3L206.7,295.3L206.2,298.9L207.7,303.5L208.2,308.6L208.7,312.7L209.7,316.8L208.7,320.9L207.7,323.1L204.6,325.1L199.5,327.2L196.5,326.6L194.9,328.2L193.9,331.2L190.3,333.3L187.3,332.8L184.2,331L185.7,325L186.8,318.8L189.3,316.3L193.4,313.7L197,313.2L199,310.7L199,306.6L199.5,302.5L200.5,298.4Z" fill="#c7e7c0"/><path d="M206.7,295.3L210.8,295.3L213.8,295.8L217.9,298.4L221,301L224,304.5L223,306.6L221,309.6L218.9,312.7L218.6,315.5L217.9,317.8L209.7,316.8L208.7,312.7L208.2,308.6L207.7,303.5L206.2,298.9Z" fill="#93bb93"/><path d="M224,304.5L228.1,305.5L232.2,306.1L234.3,307.1L235.3,309.6L235.8,312.7L230.2,312.7L226.1,311.7L224,313.7L220.5,313L218.9,312.7L221,309.6L223,306.6Z" fill="#d4603f"/><path d="M235.8,312.7L236.3,316.8L230.7,318.3L226.1,319.9L222,317.8L217.9,317.8L218.6,315.5L218.9,312.7L220.5,313L224,313.7L226.1,311.7L230.2,312.7Z" fill="#fde18c"/><path d="M236.3,316.8L235.8,320.9L230,321.5L226,322.8L221,325L215.9,323.1L211.8,324L209.7,325.6L207.7,323.1L208.7,320.9L209.7,316.8L217.9,317.8L222,317.8L226.1,319.9L230.7,318.3Z" fill="#fde18c"/><path d="M235.8,320.9L234.3,324.1L231.7,327.2L227,328.5L222,327.5L221,325L226,322.8L230,321.5Z" fill="#fde18c"/><path d="M231.7,327.2L229.2,330.2L226.1,333.3L224,336.4L223,333.3L222,330.2L222,327.5L227,328.5Z" fill="#d4603f"/><path d="M224,336.4L222,340.4L220,343L218.4,344L217.4,346.6L217.4,350.7L216.9,354.7L216.4,358.8L215.6,363L215.1,367.2L209.8,367.2L210.4,362.5L212.7,359L210.4,357.3L204.6,355.5L199.9,353.2L196.4,351.4L192.9,349.7L189.4,350.8L184.7,353.8L182.4,352.6L183.2,350L184.7,348.6L184,344.4L183.7,340.4L182.7,335.3L184.2,331L187.3,332.8L190.3,333.3L193.9,331.2L194.9,328.2L196.5,326.6L199.5,327.2L204.6,325.1L207.7,323.1L209.7,325.6L211.8,324L215.9,323.1L221,325L222,327.5L222,330.2L223,333.3Z" fill="#d12e2b"/><path d="M163.1,342L167.2,343.2L170.7,343.8L175.4,345L180,343.8L184,344.4L184.7,348.6L183.2,350L182.4,352.6L180,357.8L178.9,360.2L178.9,365.4L177.7,368.4L170.7,370.1L164.9,371.3L162.8,375L159.6,372.6L154,369.8L150.4,367.6L151.8,363.4L156.8,358.4L159.6,353.4L161.8,348.5L163.2,342.8Z" fill="#ffffff"/><path d="M131.2,366.2L137.6,363.4L142.6,364.8L148.3,365.5L150.4,367.6L154,369.8L159.6,372.6L162.8,375L161.4,377.1L159,380L158,382.5L156.7,384.7L154,388.2L149.8,390.6L147,394.2L141.3,394.9L138.4,391.3L134.1,388.2L129.8,386.8L129.1,378.3L129.8,372.6Z" fill="#c7e7c0"/><path d="M182.4,352.6L184.7,353.8L189.4,350.8L192.9,349.7L196.4,351.4L199.9,353.2L204.6,355.5L210.4,357.3L212.7,359L210.4,362.5L209.8,367.2L208.1,369.5L206.9,374.2L205.7,378.9L205.5,381.2L204.6,381.8L202.2,384.7L196.4,387L191.7,388.2L186.5,390L183,388.2L181.8,383.5L179.5,378.9L172.4,378.3L168.4,376.5L162.8,375L164.9,371.3L170.7,370.1L177.7,368.4L178.9,365.4L178.9,360.2L180,357.8Z" fill="#93bb93"/><path d="M209.8,367.2L215.1,367.2L213.3,371.9L212.2,376.5L210.4,380L208.7,382.4L205.5,381.2L205.7,378.9L206.9,374.2L208.1,369.5Z" fill="#d4603f"/><path d="M205.5,381.2L208.7,382.4L208.1,385.3L205.7,388.2L202.2,389.4L197.6,390L192.9,391.1L190,392.3L186.5,390L191.7,388.2L196.4,387L202.2,384.7L204.6,381.8Z" fill="#93bb93"/><path d="M162.8,375L168.4,376.5L172.4,378.3L179.5,378.9L181.8,383.5L183,388.2L186.5,390L190,392.3L188.1,394.2L182.4,397L176.7,399.9L174.6,402L168.2,395.6L166.8,392L162.6,389.9L154.8,389.2L149.8,390.6L154,388.2L156.7,384.7L158,382.5L159,380L161.4,377.1Z" fill="#ffffff"/><path d="M149.8,390.6L154.8,389.2L162.6,389.9L166.8,392L168.2,395.6L174.6,402L173.9,405.5L168.2,406.2L162.6,405.5L156.9,407.7L149.8,406.2L149.1,404.1L146.2,402.7L146.5,398L147,394.2Z" fill="#ffffff"/><path d="M149.8,406.2L156.9,407.7L162.6,405.5L168.2,406.2L173.9,405.5L174.6,411.9L172.5,416.2L168.9,419L168.2,420.4L167.5,417.6L164,413.3L156.9,410.5L149.8,410.5Z" fill="#ffffff"/><path d="M149.8,410.5L156.9,410.5L164,413.3L167.5,417.6L168.2,420.4L167.3,423.3L165.9,426L163.8,429L160.8,432.2L157.8,435.2L155.2,438L152.8,440.4L150.8,442.2L151.2,439.6L150.5,436L144.1,431.1L137,428.2L131.3,425.4L134.2,422.6L138.4,416.9L144.1,412.6Z" fill="#ffffff"/><path d="M174.2,355.2L178.2,355.2L178.2,358.2L174.2,358.2Z" fill="#ffffff"/></g><circle cx="628.1" cy="295.5" r="0.35" fill="#888"/><circle cx="632.9" cy="322.6" r="0.35" fill="#888"/><rect x="308" y="350.2" width="80.5" height="6.9" fill="#fff" stroke="#444" stroke-width="0.75"/><text x="348.25" y="355.1" text-anchor="middle" style="font-family:'Liberation Sans',sans-serif;font-size:3.9px" fill="#111">2021</text><g transform="translate(292.06,270.85) scale(0.35)" stroke="#333" stroke-width="1.29" stroke-linejoin="round"><path d="M56.4,316.3L58.8,313.4L59.3,310.4L61.1,306.4L65.2,303.4L71.6,301.7L74.5,301.1L75.1,290L75.7,288.5L74,280.4L74.5,278L75.1,273.9L82.1,272.8L86.2,271.6L88,274.5L91.5,278L95,277.4L99,275.1L103.7,271.6L107.2,272.8L108.4,278L109.6,285L113,288.5L114.2,285L117.2,285.6L120,280.4L125.3,280.1L125.8,281.9L127,284.8L131.7,288.9L136.9,291.8L135.2,297.6L133.9,300L130.4,307L127.5,314L128.8,317.8L128.1,324L113.6,323.9L110.7,322.7L107.2,319.8L104.3,319.8L101.4,324.5L95,327.5L92,326.8L88.5,328.5L83.9,326.2L78,322.7L73.4,319.2L64,318Z" fill="#c7e7c0"/><path d="M56.4,316.3L64,318L73.4,319.2L78,322.7L83.9,326.2L88.5,328.5L92,326.8L95,327.5L89.7,328.5L85,331.5L80.4,334.4L75.1,333.2L71.6,333.8L70.4,330.3L68.1,328.5L64.6,329.1L61.7,326.8L59.3,323.9L57.6,319.2Z" fill="#93bb93"/><path d="M103.7,271.6L101.4,266.4L98.5,261.7L102.6,263.4L107.2,264L113.6,261.1L117.2,258.8L118.9,257L120,257.6L120.7,261.1L121.8,263.4L120.7,267.5L121.8,272.5L125.3,276L125.3,280.1L120,280.4L117.2,285.6L114.2,285L113,288.5L109.6,285L108.4,278L107.2,272.8Z" fill="#c7e7c0"/><path d="M125.3,276L127,274.3L131.7,272.5L138.1,270.8L143.4,269.6L145.1,271.4L148,273.7L151.5,277.2L155,284.8L157.4,287.1L159.7,284.2L162.6,280.7L166.7,277.8L169,280.1L171.4,281.9L174.9,284.2L179.6,286L183.6,287.1L182.7,293.3L180.6,300L178.1,303.5L175.4,305.3L172.5,307L174.2,309.3L171.9,314L169.6,319.9L166.1,326.9L163.7,328.6L145,327.4L134.5,326.3L131,322.8L128.8,317.8L127.5,314L130.4,307L133.9,300L135.2,297.6L136.9,291.8L131.7,288.9L127,284.8L125.8,281.9L125.3,280.1Z" fill="#c7e7c0"/><path d="M145.1,271.4L148.6,270.8L153.9,270.2L156.8,265.5L159.1,260.3L160.9,264.3L162,269L164.4,271.9L166.7,273.7L166.7,277.8L162.6,280.7L159.7,284.2L157.4,287.1L155,284.8L151.5,277.2L148,273.7Z" fill="#c7e7c0"/><path d="M95,327.5L101.4,324.5L104.3,319.8L107.2,319.8L110.7,322.7L113.6,323.9L113.8,330L115.4,334.4L119.9,335.5L120.8,338L120.3,341.4L118.8,345.5L118.5,347L115.6,347L111.4,345.6L105.7,342.8L100,341.4L97.3,340L96.1,335.5L96.1,329.7Z" fill="#c7e7c0"/><path d="M175.4,305.3L178.9,311.7L180,319.9L182.4,326.9L184.2,331L182.7,335.3L183.7,340.4L184,344.4L180,343.8L175.4,345L170.7,343.8L167.2,343.2L163.1,342L163.5,335L163.7,328.6L166.1,326.9L169.6,319.9L171.9,314L174.2,309.3L172.5,307Z" fill="#93bb93"/><path d="M113.6,323.9L128.1,324L128.8,317.8L131,322.8L134.5,326.3L145,327.4L163.7,328.6L163.5,335L163.1,342L163.2,342.8L161.8,348.5L159.6,353.4L156.8,358.4L151.8,363.4L150.4,367.6L148.3,365.5L142.6,364.8L137.6,363.4L131.2,366.2L128.4,364.1L127,359.8L119.9,358.4L118.5,351.3L118.5,347L118.8,345.5L120.3,341.4L120.8,338L119.9,335.5L115.4,334.4L113.8,330Z" fill="#c7e7c0"/><path d="M183.6,287.1L187.7,287.7L190.8,289.7L191.3,292.8L192.9,294.3L194.9,292.8L199.5,293.8L204.1,295.3L200.5,298.4L199.5,302.5L199,306.6L199,310.7L197,313.2L193.4,313.7L189.3,316.3L186.8,318.8L185.7,325L184.2,331L182.4,326.9L180,319.9L178.9,311.7L175.4,305.3L178.1,303.5L180.6,300L182.7,293.3Z" fill="#c7e7c0"/><path d="M204.1,295.3L206.7,295.3L206.2,298.9L207.7,303.5L208.2,308.6L208.7,312.7L209.7,316.8L208.7,320.9L207.7,323.1L204.6,325.1L199.5,327.2L196.5,326.6L194.9,328.2L193.9,331.2L190.3,333.3L187.3,332.8L184.2,331L185.7,325L186.8,318.8L189.3,316.3L193.4,313.7L197,313.2L199,310.7L199,306.6L199.5,302.5L200.5,298.4Z" fill="#c7e7c0"/><path d="M206.7,295.3L210.8,295.3L213.8,295.8L217.9,298.4L221,301L224,304.5L223,306.6L221,309.6L218.9,312.7L218.6,315.5L217.9,317.8L209.7,316.8L208.7,312.7L208.2,308.6L207.7,303.5L206.2,298.9Z" fill="#93bb93"/><path d="M224,304.5L228.1,305.5L232.2,306.1L234.3,307.1L235.3,309.6L235.8,312.7L230.2,312.7L226.1,311.7L224,313.7L220.5,313L218.9,312.7L221,309.6L223,306.6Z" fill="#d4603f"/><path d="M235.8,312.7L236.3,316.8L230.7,318.3L226.1,319.9L222,317.8L217.9,317.8L218.6,315.5L218.9,312.7L220.5,313L224,313.7L226.1,311.7L230.2,312.7Z" fill="#921d20"/><path d="M236.3,316.8L235.8,320.9L230,321.5L226,322.8L221,325L215.9,323.1L211.8,324L209.7,325.6L207.7,323.1L208.7,320.9L209.7,316.8L217.9,317.8L222,317.8L226.1,319.9L230.7,318.3Z" fill="#921d20"/><path d="M235.8,320.9L234.3,324.1L231.7,327.2L227,328.5L222,327.5L221,325L226,322.8L230,321.5Z" fill="#d12e2b"/><path d="M231.7,327.2L229.2,330.2L226.1,333.3L224,336.4L223,333.3L222,330.2L222,327.5L227,328.5Z" fill="#c7e7c0"/><path d="M224,336.4L222,340.4L220,343L218.4,344L217.4,346.6L217.4,350.7L216.9,354.7L216.4,358.8L215.6,363L215.1,367.2L209.8,367.2L210.4,362.5L212.7,359L210.4,357.3L204.6,355.5L199.9,353.2L196.4,351.4L192.9,349.7L189.4,350.8L184.7,353.8L182.4,352.6L183.2,350L184.7,348.6L184,344.4L183.7,340.4L182.7,335.3L184.2,331L187.3,332.8L190.3,333.3L193.9,331.2L194.9,328.2L196.5,326.6L199.5,327.2L204.6,325.1L207.7,323.1L209.7,325.6L211.8,324L215.9,323.1L221,325L222,327.5L222,330.2L223,333.3Z" fill="#fdb986"/><path d="M163.1,342L167.2,343.2L170.7,343.8L175.4,345L180,343.8L184,344.4L184.7,348.6L183.2,350L182.4,352.6L180,357.8L178.9,360.2L178.9,365.4L177.7,368.4L170.7,370.1L164.9,371.3L162.8,375L159.6,372.6L154,369.8L150.4,367.6L151.8,363.4L156.8,358.4L159.6,353.4L161.8,348.5L163.2,342.8Z" fill="#c7e7c0"/><path d="M131.2,366.2L137.6,363.4L142.6,364.8L148.3,365.5L150.4,367.6L154,369.8L159.6,372.6L162.8,375L161.4,377.1L159,380L158,382.5L156.7,384.7L154,388.2L149.8,390.6L147,394.2L141.3,394.9L138.4,391.3L134.1,388.2L129.8,386.8L129.1,378.3L129.8,372.6Z" fill="#c7e7c0"/><path d="M182.4,352.6L184.7,353.8L189.4,350.8L192.9,349.7L196.4,351.4L199.9,353.2L204.6,355.5L210.4,357.3L212.7,359L210.4,362.5L209.8,367.2L208.1,369.5L206.9,374.2L205.7,378.9L205.5,381.2L204.6,381.8L202.2,384.7L196.4,387L191.7,388.2L186.5,390L183,388.2L181.8,383.5L179.5,378.9L172.4,378.3L168.4,376.5L162.8,375L164.9,371.3L170.7,370.1L177.7,368.4L178.9,365.4L178.9,360.2L180,357.8Z" fill="#93bb93"/><path d="M209.8,367.2L215.1,367.2L213.3,371.9L212.2,376.5L210.4,380L208.7,382.4L205.5,381.2L205.7,378.9L206.9,374.2L208.1,369.5Z" fill="#ffffff"/><path d="M205.5,381.2L208.7,382.4L208.1,385.3L205.7,388.2L202.2,389.4L197.6,390L192.9,391.1L190,392.3L186.5,390L191.7,388.2L196.4,387L202.2,384.7L204.6,381.8Z" fill="#93bb93"/><path d="M162.8,375L168.4,376.5L172.4,378.3L179.5,378.9L181.8,383.5L183,388.2L186.5,390L190,392.3L188.1,394.2L182.4,397L176.7,399.9L174.6,402L168.2,395.6L166.8,392L162.6,389.9L154.8,389.2L149.8,390.6L154,388.2L156.7,384.7L158,382.5L159,380L161.4,377.1Z" fill="#93bb93"/><path d="M149.8,390.6L154.8,389.2L162.6,389.9L166.8,392L168.2,395.6L174.6,402L173.9,405.5L168.2,406.2L162.6,405.5L156.9,407.7L149.8,406.2L149.1,404.1L146.2,402.7L146.5,398L147,394.2Z" fill="#ffffff"/><path d="M149.8,406.2L156.9,407.7L162.6,405.5L168.2,406.2L173.9,405.5L174.6,411.9L172.5,416.2L168.9,419L168.2,420.4L167.5,417.6L164,413.3L156.9,410.5L149.8,410.5Z" fill="#ffffff"/><path d="M149.8,410.5L156.9,410.5L164,413.3L167.5,417.6L168.2,420.4L167.3,423.3L165.9,426L163.8,429L160.8,432.2L157.8,435.2L155.2,438L152.8,440.4L150.8,442.2L151.2,439.6L150.5,436L144.1,431.1L137,428.2L131.3,425.4L134.2,422.6L138.4,416.9L144.1,412.6Z" fill="#c7e7c0"/><path d="M174.2,355.2L178.2,355.2L178.2,358.2L174.2,358.2Z" fill="#c7e7c0"/></g><circle cx="379.7" cy="376.1" r="0.35" fill="#888"/><circle cx="384.5" cy="403.2" r="0.35" fill="#888"/><rect x="390.8" y="350.2" width="80.5" height="6.9" fill="#fff" stroke="#444" stroke-width="0.75"/><text x="431.05" y="355.1" text-anchor="middle" style="font-family:'Liberation Sans',sans-serif;font-size:3.9px" fill="#111">2022</text><g transform="translate(374.86,270.85) scale(0.35)" stroke="#333" stroke-width="1.29" stroke-linejoin="round"><path d="M56.4,316.3L58.8,313.4L59.3,310.4L61.1,306.4L65.2,303.4L71.6,301.7L74.5,301.1L75.1,290L75.7,288.5L74,280.4L74.5,278L75.1,273.9L82.1,272.8L86.2,271.6L88,274.5L91.5,278L95,277.4L99,275.1L103.7,271.6L107.2,272.8L108.4,278L109.6,285L113,288.5L114.2,285L117.2,285.6L120,280.4L125.3,280.1L125.8,281.9L127,284.8L131.7,288.9L136.9,291.8L135.2,297.6L133.9,300L130.4,307L127.5,314L128.8,317.8L128.1,324L113.6,323.9L110.7,322.7L107.2,319.8L104.3,319.8L101.4,324.5L95,327.5L92,326.8L88.5,328.5L83.9,326.2L78,322.7L73.4,319.2L64,318Z" fill="#c7e7c0"/><path d="M56.4,316.3L64,318L73.4,319.2L78,322.7L83.9,326.2L88.5,328.5L92,326.8L95,327.5L89.7,328.5L85,331.5L80.4,334.4L75.1,333.2L71.6,333.8L70.4,330.3L68.1,328.5L64.6,329.1L61.7,326.8L59.3,323.9L57.6,319.2Z" fill="#c7e7c0"/><path d="M103.7,271.6L101.4,266.4L98.5,261.7L102.6,263.4L107.2,264L113.6,261.1L117.2,258.8L118.9,257L120,257.6L120.7,261.1L121.8,263.4L120.7,267.5L121.8,272.5L125.3,276L125.3,280.1L120,280.4L117.2,285.6L114.2,285L113,288.5L109.6,285L108.4,278L107.2,272.8Z" fill="#93bb93"/><path d="M125.3,276L127,274.3L131.7,272.5L138.1,270.8L143.4,269.6L145.1,271.4L148,273.7L151.5,277.2L155,284.8L157.4,287.1L159.7,284.2L162.6,280.7L166.7,277.8L169,280.1L171.4,281.9L174.9,284.2L179.6,286L183.6,287.1L182.7,293.3L180.6,300L178.1,303.5L175.4,305.3L172.5,307L174.2,309.3L171.9,314L169.6,319.9L166.1,326.9L163.7,328.6L145,327.4L134.5,326.3L131,322.8L128.8,317.8L127.5,314L130.4,307L133.9,300L135.2,297.6L136.9,291.8L131.7,288.9L127,284.8L125.8,281.9L125.3,280.1Z" fill="#c7e7c0"/><path d="M145.1,271.4L148.6,270.8L153.9,270.2L156.8,265.5L159.1,260.3L160.9,264.3L162,269L164.4,271.9L166.7,273.7L166.7,277.8L162.6,280.7L159.7,284.2L157.4,287.1L155,284.8L151.5,277.2L148,273.7Z" fill="#c7e7c0"/><path d="M95,327.5L101.4,324.5L104.3,319.8L107.2,319.8L110.7,322.7L113.6,323.9L113.8,330L115.4,334.4L119.9,335.5L120.8,338L120.3,341.4L118.8,345.5L118.5,347L115.6,347L111.4,345.6L105.7,342.8L100,341.4L97.3,340L96.1,335.5L96.1,329.7Z" fill="#c7e7c0"/><path d="M175.4,305.3L178.9,311.7L180,319.9L182.4,326.9L184.2,331L182.7,335.3L183.7,340.4L184,344.4L180,343.8L175.4,345L170.7,343.8L167.2,343.2L163.1,342L163.5,335L163.7,328.6L166.1,326.9L169.6,319.9L171.9,314L174.2,309.3L172.5,307Z" fill="#921d20"/><path d="M113.6,323.9L128.1,324L128.8,317.8L131,322.8L134.5,326.3L145,327.4L163.7,328.6L163.5,335L163.1,342L163.2,342.8L161.8,348.5L159.6,353.4L156.8,358.4L151.8,363.4L150.4,367.6L148.3,365.5L142.6,364.8L137.6,363.4L131.2,366.2L128.4,364.1L127,359.8L119.9,358.4L118.5,351.3L118.5,347L118.8,345.5L120.3,341.4L120.8,338L119.9,335.5L115.4,334.4L113.8,330Z" fill="#c7e7c0"/><path d="M183.6,287.1L187.7,287.7L190.8,289.7L191.3,292.8L192.9,294.3L194.9,292.8L199.5,293.8L204.1,295.3L200.5,298.4L199.5,302.5L199,306.6L199,310.7L197,313.2L193.4,313.7L189.3,316.3L186.8,318.8L185.7,325L184.2,331L182.4,326.9L180,319.9L178.9,311.7L175.4,305.3L178.1,303.5L180.6,300L182.7,293.3Z" fill="#93bb93"/><path d="M204.1,295.3L206.7,295.3L206.2,298.9L207.7,303.5L208.2,308.6L208.7,312.7L209.7,316.8L208.7,320.9L207.7,323.1L204.6,325.1L199.5,327.2L196.5,326.6L194.9,328.2L193.9,331.2L190.3,333.3L187.3,332.8L184.2,331L185.7,325L186.8,318.8L189.3,316.3L193.4,313.7L197,313.2L199,310.7L199,306.6L199.5,302.5L200.5,298.4Z" fill="#921d20"/><path d="M206.7,295.3L210.8,295.3L213.8,295.8L217.9,298.4L221,301L224,304.5L223,306.6L221,309.6L218.9,312.7L218.6,315.5L217.9,317.8L209.7,316.8L208.7,312.7L208.2,308.6L207.7,303.5L206.2,298.9Z" fill="#7f0000"/><path d="M224,304.5L228.1,305.5L232.2,306.1L234.3,307.1L235.3,309.6L235.8,312.7L230.2,312.7L226.1,311.7L224,313.7L220.5,313L218.9,312.7L221,309.6L223,306.6Z" fill="#921d20"/><path d="M235.8,312.7L236.3,316.8L230.7,318.3L226.1,319.9L222,317.8L217.9,317.8L218.6,315.5L218.9,312.7L220.5,313L224,313.7L226.1,311.7L230.2,312.7Z" fill="#921d20"/><path d="M236.3,316.8L235.8,320.9L230,321.5L226,322.8L221,325L215.9,323.1L211.8,324L209.7,325.6L207.7,323.1L208.7,320.9L209.7,316.8L217.9,317.8L222,317.8L226.1,319.9L230.7,318.3Z" fill="#921d20"/><path d="M235.8,320.9L234.3,324.1L231.7,327.2L227,328.5L222,327.5L221,325L226,322.8L230,321.5Z" fill="#921d20"/><path d="M231.7,327.2L229.2,330.2L226.1,333.3L224,336.4L223,333.3L222,330.2L222,327.5L227,328.5Z" fill="#d4603f"/><path d="M224,336.4L222,340.4L220,343L218.4,344L217.4,346.6L217.4,350.7L216.9,354.7L216.4,358.8L215.6,363L215.1,367.2L209.8,367.2L210.4,362.5L212.7,359L210.4,357.3L204.6,355.5L199.9,353.2L196.4,351.4L192.9,349.7L189.4,350.8L184.7,353.8L182.4,352.6L183.2,350L184.7,348.6L184,344.4L183.7,340.4L182.7,335.3L184.2,331L187.3,332.8L190.3,333.3L193.9,331.2L194.9,328.2L196.5,326.6L199.5,327.2L204.6,325.1L207.7,323.1L209.7,325.6L211.8,324L215.9,323.1L221,325L222,327.5L222,330.2L223,333.3Z" fill="#d4603f"/><path d="M163.1,342L167.2,343.2L170.7,343.8L175.4,345L180,343.8L184,344.4L184.7,348.6L183.2,350L182.4,352.6L180,357.8L178.9,360.2L178.9,365.4L177.7,368.4L170.7,370.1L164.9,371.3L162.8,375L159.6,372.6L154,369.8L150.4,367.6L151.8,363.4L156.8,358.4L159.6,353.4L161.8,348.5L163.2,342.8Z" fill="#fdb986"/><path d="M131.2,366.2L137.6,363.4L142.6,364.8L148.3,365.5L150.4,367.6L154,369.8L159.6,372.6L162.8,375L161.4,377.1L159,380L158,382.5L156.7,384.7L154,388.2L149.8,390.6L147,394.2L141.3,394.9L138.4,391.3L134.1,388.2L129.8,386.8L129.1,378.3L129.8,372.6Z" fill="#c7e7c0"/><path d="M182.4,352.6L184.7,353.8L189.4,350.8L192.9,349.7L196.4,351.4L199.9,353.2L204.6,355.5L210.4,357.3L212.7,359L210.4,362.5L209.8,367.2L208.1,369.5L206.9,374.2L205.7,378.9L205.5,381.2L204.6,381.8L202.2,384.7L196.4,387L191.7,388.2L186.5,390L183,388.2L181.8,383.5L179.5,378.9L172.4,378.3L168.4,376.5L162.8,375L164.9,371.3L170.7,370.1L177.7,368.4L178.9,365.4L178.9,360.2L180,357.8Z" fill="#fde18c"/><path d="M209.8,367.2L215.1,367.2L213.3,371.9L212.2,376.5L210.4,380L208.7,382.4L205.5,381.2L205.7,378.9L206.9,374.2L208.1,369.5Z" fill="#ffffff"/><path d="M205.5,381.2L208.7,382.4L208.1,385.3L205.7,388.2L202.2,389.4L197.6,390L192.9,391.1L190,392.3L186.5,390L191.7,388.2L196.4,387L202.2,384.7L204.6,381.8Z" fill="#c7e7c0"/><path d="M162.8,375L168.4,376.5L172.4,378.3L179.5,378.9L181.8,383.5L183,388.2L186.5,390L190,392.3L188.1,394.2L182.4,397L176.7,399.9L174.6,402L168.2,395.6L166.8,392L162.6,389.9L154.8,389.2L149.8,390.6L154,388.2L156.7,384.7L158,382.5L159,380L161.4,377.1Z" fill="#c7e7c0"/><path d="M149.8,390.6L154.8,389.2L162.6,389.9L166.8,392L168.2,395.6L174.6,402L173.9,405.5L168.2,406.2L162.6,405.5L156.9,407.7L149.8,406.2L149.1,404.1L146.2,402.7L146.5,398L147,394.2Z" fill="#ffffff"/><path d="M149.8,406.2L156.9,407.7L162.6,405.5L168.2,406.2L173.9,405.5L174.6,411.9L172.5,416.2L168.9,419L168.2,420.4L167.5,417.6L164,413.3L156.9,410.5L149.8,410.5Z" fill="#ffffff"/><path d="M149.8,410.5L156.9,410.5L164,413.3L167.5,417.6L168.2,420.4L167.3,423.3L165.9,426L163.8,429L160.8,432.2L157.8,435.2L155.2,438L152.8,440.4L150.8,442.2L151.2,439.6L150.5,436L144.1,431.1L137,428.2L131.3,425.4L134.2,422.6L138.4,416.9L144.1,412.6Z" fill="#ffffff"/><path d="M174.2,355.2L178.2,355.2L178.2,358.2L174.2,358.2Z" fill="#fdb986"/></g><circle cx="462.5" cy="376.1" r="0.35" fill="#888"/><circle cx="467.3" cy="403.2" r="0.35" fill="#888"/><rect x="473.6" y="350.2" width="80.5" height="6.9" fill="#fff" stroke="#444" stroke-width="0.75"/><text x="513.85" y="355.1" text-anchor="middle" style="font-family:'Liberation Sans',sans-serif;font-size:3.9px" fill="#111">2023</text><g transform="translate(457.66,270.85) scale(0.35)" stroke="#333" stroke-width="1.29" stroke-linejoin="round"><path d="M56.4,316.3L58.8,313.4L59.3,310.4L61.1,306.4L65.2,303.4L71.6,301.7L74.5,301.1L75.1,290L75.7,288.5L74,280.4L74.5,278L75.1,273.9L82.1,272.8L86.2,271.6L88,274.5L91.5,278L95,277.4L99,275.1L103.7,271.6L107.2,272.8L108.4,278L109.6,285L113,288.5L114.2,285L117.2,285.6L120,280.4L125.3,280.1L125.8,281.9L127,284.8L131.7,288.9L136.9,291.8L135.2,297.6L133.9,300L130.4,307L127.5,314L128.8,317.8L128.1,324L113.6,323.9L110.7,322.7L107.2,319.8L104.3,319.8L101.4,324.5L95,327.5L92,326.8L88.5,328.5L83.9,326.2L78,322.7L73.4,319.2L64,318Z" fill="#c7e7c0"/><path d="M56.4,316.3L64,318L73.4,319.2L78,322.7L83.9,326.2L88.5,328.5L92,326.8L95,327.5L89.7,328.5L85,331.5L80.4,334.4L75.1,333.2L71.6,333.8L70.4,330.3L68.1,328.5L64.6,329.1L61.7,326.8L59.3,323.9L57.6,319.2Z" fill="#c7e7c0"/><path d="M103.7,271.6L101.4,266.4L98.5,261.7L102.6,263.4L107.2,264L113.6,261.1L117.2,258.8L118.9,257L120,257.6L120.7,261.1L121.8,263.4L120.7,267.5L121.8,272.5L125.3,276L125.3,280.1L120,280.4L117.2,285.6L114.2,285L113,288.5L109.6,285L108.4,278L107.2,272.8Z" fill="#c7e7c0"/><path d="M125.3,276L127,274.3L131.7,272.5L138.1,270.8L143.4,269.6L145.1,271.4L148,273.7L151.5,277.2L155,284.8L157.4,287.1L159.7,284.2L162.6,280.7L166.7,277.8L169,280.1L171.4,281.9L174.9,284.2L179.6,286L183.6,287.1L182.7,293.3L180.6,300L178.1,303.5L175.4,305.3L172.5,307L174.2,309.3L171.9,314L169.6,319.9L166.1,326.9L163.7,328.6L145,327.4L134.5,326.3L131,322.8L128.8,317.8L127.5,314L130.4,307L133.9,300L135.2,297.6L136.9,291.8L131.7,288.9L127,284.8L125.8,281.9L125.3,280.1Z" fill="#c7e7c0"/><path d="M145.1,271.4L148.6,270.8L153.9,270.2L156.8,265.5L159.1,260.3L160.9,264.3L162,269L164.4,271.9L166.7,273.7L166.7,277.8L162.6,280.7L159.7,284.2L157.4,287.1L155,284.8L151.5,277.2L148,273.7Z" fill="#c7e7c0"/><path d="M95,327.5L101.4,324.5L104.3,319.8L107.2,319.8L110.7,322.7L113.6,323.9L113.8,330L115.4,334.4L119.9,335.5L120.8,338L120.3,341.4L118.8,345.5L118.5,347L115.6,347L111.4,345.6L105.7,342.8L100,341.4L97.3,340L96.1,335.5L96.1,329.7Z" fill="#c7e7c0"/><path d="M175.4,305.3L178.9,311.7L180,319.9L182.4,326.9L184.2,331L182.7,335.3L183.7,340.4L184,344.4L180,343.8L175.4,345L170.7,343.8L167.2,343.2L163.1,342L163.5,335L163.7,328.6L166.1,326.9L169.6,319.9L171.9,314L174.2,309.3L172.5,307Z" fill="#921d20"/><path d="M113.6,323.9L128.1,324L128.8,317.8L131,322.8L134.5,326.3L145,327.4L163.7,328.6L163.5,335L163.1,342L163.2,342.8L161.8,348.5L159.6,353.4L156.8,358.4L151.8,363.4L150.4,367.6L148.3,365.5L142.6,364.8L137.6,363.4L131.2,366.2L128.4,364.1L127,359.8L119.9,358.4L118.5,351.3L118.5,347L118.8,345.5L120.3,341.4L120.8,338L119.9,335.5L115.4,334.4L113.8,330Z" fill="#c7e7c0"/><path d="M183.6,287.1L187.7,287.7L190.8,289.7L191.3,292.8L192.9,294.3L194.9,292.8L199.5,293.8L204.1,295.3L200.5,298.4L199.5,302.5L199,306.6L199,310.7L197,313.2L193.4,313.7L189.3,316.3L186.8,318.8L185.7,325L184.2,331L182.4,326.9L180,319.9L178.9,311.7L175.4,305.3L178.1,303.5L180.6,300L182.7,293.3Z" fill="#fde18c"/><path d="M204.1,295.3L206.7,295.3L206.2,298.9L207.7,303.5L208.2,308.6L208.7,312.7L209.7,316.8L208.7,320.9L207.7,323.1L204.6,325.1L199.5,327.2L196.5,326.6L194.9,328.2L193.9,331.2L190.3,333.3L187.3,332.8L184.2,331L185.7,325L186.8,318.8L189.3,316.3L193.4,313.7L197,313.2L199,310.7L199,306.6L199.5,302.5L200.5,298.4Z" fill="#d4603f"/><path d="M206.7,295.3L210.8,295.3L213.8,295.8L217.9,298.4L221,301L224,304.5L223,306.6L221,309.6L218.9,312.7L218.6,315.5L217.9,317.8L209.7,316.8L208.7,312.7L208.2,308.6L207.7,303.5L206.2,298.9Z" fill="#93bb93"/><path d="M224,304.5L228.1,305.5L232.2,306.1L234.3,307.1L235.3,309.6L235.8,312.7L230.2,312.7L226.1,311.7L224,313.7L220.5,313L218.9,312.7L221,309.6L223,306.6Z" fill="#93bb93"/><path d="M235.8,312.7L236.3,316.8L230.7,318.3L226.1,319.9L222,317.8L217.9,317.8L218.6,315.5L218.9,312.7L220.5,313L224,313.7L226.1,311.7L230.2,312.7Z" fill="#93bb93"/><path d="M236.3,316.8L235.8,320.9L230,321.5L226,322.8L221,325L215.9,323.1L211.8,324L209.7,325.6L207.7,323.1L208.7,320.9L209.7,316.8L217.9,317.8L222,317.8L226.1,319.9L230.7,318.3Z" fill="#93bb93"/><path d="M235.8,320.9L234.3,324.1L231.7,327.2L227,328.5L222,327.5L221,325L226,322.8L230,321.5Z" fill="#93bb93"/><path d="M231.7,327.2L229.2,330.2L226.1,333.3L224,336.4L223,333.3L222,330.2L222,327.5L227,328.5Z" fill="#93bb93"/><path d="M224,336.4L222,340.4L220,343L218.4,344L217.4,346.6L217.4,350.7L216.9,354.7L216.4,358.8L215.6,363L215.1,367.2L209.8,367.2L210.4,362.5L212.7,359L210.4,357.3L204.6,355.5L199.9,353.2L196.4,351.4L192.9,349.7L189.4,350.8L184.7,353.8L182.4,352.6L183.2,350L184.7,348.6L184,344.4L183.7,340.4L182.7,335.3L184.2,331L187.3,332.8L190.3,333.3L193.9,331.2L194.9,328.2L196.5,326.6L199.5,327.2L204.6,325.1L207.7,323.1L209.7,325.6L211.8,324L215.9,323.1L221,325L222,327.5L222,330.2L223,333.3Z" fill="#f98c51"/><path d="M163.1,342L167.2,343.2L170.7,343.8L175.4,345L180,343.8L184,344.4L184.7,348.6L183.2,350L182.4,352.6L180,357.8L178.9,360.2L178.9,365.4L177.7,368.4L170.7,370.1L164.9,371.3L162.8,375L159.6,372.6L154,369.8L150.4,367.6L151.8,363.4L156.8,358.4L159.6,353.4L161.8,348.5L163.2,342.8Z" fill="#fde18c"/><path d="M131.2,366.2L137.6,363.4L142.6,364.8L148.3,365.5L150.4,367.6L154,369.8L159.6,372.6L162.8,375L161.4,377.1L159,380L158,382.5L156.7,384.7L154,388.2L149.8,390.6L147,394.2L141.3,394.9L138.4,391.3L134.1,388.2L129.8,386.8L129.1,378.3L129.8,372.6Z" fill="#fde18c"/><path d="M182.4,352.6L184.7,353.8L189.4,350.8L192.9,349.7L196.4,351.4L199.9,353.2L204.6,355.5L210.4,357.3L212.7,359L210.4,362.5L209.8,367.2L208.1,369.5L206.9,374.2L205.7,378.9L205.5,381.2L204.6,381.8L202.2,384.7L196.4,387L191.7,388.2L186.5,390L183,388.2L181.8,383.5L179.5,378.9L172.4,378.3L168.4,376.5L162.8,375L164.9,371.3L170.7,370.1L177.7,368.4L178.9,365.4L178.9,360.2L180,357.8Z" fill="#921d20"/><path d="M209.8,367.2L215.1,367.2L213.3,371.9L212.2,376.5L210.4,380L208.7,382.4L205.5,381.2L205.7,378.9L206.9,374.2L208.1,369.5Z" fill="#ffffff"/><path d="M205.5,381.2L208.7,382.4L208.1,385.3L205.7,388.2L202.2,389.4L197.6,390L192.9,391.1L190,392.3L186.5,390L191.7,388.2L196.4,387L202.2,384.7L204.6,381.8Z" fill="#c7e7c0"/><path d="M162.8,375L168.4,376.5L172.4,378.3L179.5,378.9L181.8,383.5L183,388.2L186.5,390L190,392.3L188.1,394.2L182.4,397L176.7,399.9L174.6,402L168.2,395.6L166.8,392L162.6,389.9L154.8,389.2L149.8,390.6L154,388.2L156.7,384.7L158,382.5L159,380L161.4,377.1Z" fill="#c7e7c0"/><path d="M149.8,390.6L154.8,389.2L162.6,389.9L166.8,392L168.2,395.6L174.6,402L173.9,405.5L168.2,406.2L162.6,405.5L156.9,407.7L149.8,406.2L149.1,404.1L146.2,402.7L146.5,398L147,394.2Z" fill="#93bb93"/><path d="M149.8,406.2L156.9,407.7L162.6,405.5L168.2,406.2L173.9,405.5L174.6,411.9L172.5,416.2L168.9,419L168.2,420.4L167.5,417.6L164,413.3L156.9,410.5L149.8,410.5Z" fill="#ffffff"/><path d="M149.8,410.5L156.9,410.5L164,413.3L167.5,417.6L168.2,420.4L167.3,423.3L165.9,426L163.8,429L160.8,432.2L157.8,435.2L155.2,438L152.8,440.4L150.8,442.2L151.2,439.6L150.5,436L144.1,431.1L137,428.2L131.3,425.4L134.2,422.6L138.4,416.9L144.1,412.6Z" fill="#ffffff"/><path d="M174.2,355.2L178.2,355.2L178.2,358.2L174.2,358.2Z" fill="#fde18c"/></g><circle cx="545.3" cy="376.1" r="0.35" fill="#888"/><circle cx="550.1" cy="403.2" r="0.35" fill="#888"/><rect x="556.4" y="350.2" width="80.5" height="6.9" fill="#fff" stroke="#444" stroke-width="0.75"/><text x="596.65" y="355.1" text-anchor="middle" style="font-family:'Liberation Sans',sans-serif;font-size:3.9px" fill="#111">2024</text><g transform="translate(540.46,270.85) scale(0.35)" stroke="#333" stroke-width="1.29" stroke-linejoin="round"><path d="M56.4,316.3L58.8,313.4L59.3,310.4L61.1,306.4L65.2,303.4L71.6,301.7L74.5,301.1L75.1,290L75.7,288.5L74,280.4L74.5,278L75.1,273.9L82.1,272.8L86.2,271.6L88,274.5L91.5,278L95,277.4L99,275.1L103.7,271.6L107.2,272.8L108.4,278L109.6,285L113,288.5L114.2,285L117.2,285.6L120,280.4L125.3,280.1L125.8,281.9L127,284.8L131.7,288.9L136.9,291.8L135.2,297.6L133.9,300L130.4,307L127.5,314L128.8,317.8L128.1,324L113.6,323.9L110.7,322.7L107.2,319.8L104.3,319.8L101.4,324.5L95,327.5L92,326.8L88.5,328.5L83.9,326.2L78,322.7L73.4,319.2L64,318Z" fill="#ffffff"/><path d="M56.4,316.3L64,318L73.4,319.2L78,322.7L83.9,326.2L88.5,328.5L92,326.8L95,327.5L89.7,328.5L85,331.5L80.4,334.4L75.1,333.2L71.6,333.8L70.4,330.3L68.1,328.5L64.6,329.1L61.7,326.8L59.3,323.9L57.6,319.2Z" fill="#93bb93"/><path d="M103.7,271.6L101.4,266.4L98.5,261.7L102.6,263.4L107.2,264L113.6,261.1L117.2,258.8L118.9,257L120,257.6L120.7,261.1L121.8,263.4L120.7,267.5L121.8,272.5L125.3,276L125.3,280.1L120,280.4L117.2,285.6L114.2,285L113,288.5L109.6,285L108.4,278L107.2,272.8Z" fill="#c7e7c0"/><path d="M125.3,276L127,274.3L131.7,272.5L138.1,270.8L143.4,269.6L145.1,271.4L148,273.7L151.5,277.2L155,284.8L157.4,287.1L159.7,284.2L162.6,280.7L166.7,277.8L169,280.1L171.4,281.9L174.9,284.2L179.6,286L183.6,287.1L182.7,293.3L180.6,300L178.1,303.5L175.4,305.3L172.5,307L174.2,309.3L171.9,314L169.6,319.9L166.1,326.9L163.7,328.6L145,327.4L134.5,326.3L131,322.8L128.8,317.8L127.5,314L130.4,307L133.9,300L135.2,297.6L136.9,291.8L131.7,288.9L127,284.8L125.8,281.9L125.3,280.1Z" fill="#c7e7c0"/><path d="M145.1,271.4L148.6,270.8L153.9,270.2L156.8,265.5L159.1,260.3L160.9,264.3L162,269L164.4,271.9L166.7,273.7L166.7,277.8L162.6,280.7L159.7,284.2L157.4,287.1L155,284.8L151.5,277.2L148,273.7Z" fill="#93bb93"/><path d="M95,327.5L101.4,324.5L104.3,319.8L107.2,319.8L110.7,322.7L113.6,323.9L113.8,330L115.4,334.4L119.9,335.5L120.8,338L120.3,341.4L118.8,345.5L118.5,347L115.6,347L111.4,345.6L105.7,342.8L100,341.4L97.3,340L96.1,335.5L96.1,329.7Z" fill="#c7e7c0"/><path d="M175.4,305.3L178.9,311.7L180,319.9L182.4,326.9L184.2,331L182.7,335.3L183.7,340.4L184,344.4L180,343.8L175.4,345L170.7,343.8L167.2,343.2L163.1,342L163.5,335L163.7,328.6L166.1,326.9L169.6,319.9L171.9,314L174.2,309.3L172.5,307Z" fill="#fde18c"/><path d="M113.6,323.9L128.1,324L128.8,317.8L131,322.8L134.5,326.3L145,327.4L163.7,328.6L163.5,335L163.1,342L163.2,342.8L161.8,348.5L159.6,353.4L156.8,358.4L151.8,363.4L150.4,367.6L148.3,365.5L142.6,364.8L137.6,363.4L131.2,366.2L128.4,364.1L127,359.8L119.9,358.4L118.5,351.3L118.5,347L118.8,345.5L120.3,341.4L120.8,338L119.9,335.5L115.4,334.4L113.8,330Z" fill="#7f0000"/><path d="M183.6,287.1L187.7,287.7L190.8,289.7L191.3,292.8L192.9,294.3L194.9,292.8L199.5,293.8L204.1,295.3L200.5,298.4L199.5,302.5L199,306.6L199,310.7L197,313.2L193.4,313.7L189.3,316.3L186.8,318.8L185.7,325L184.2,331L182.4,326.9L180,319.9L178.9,311.7L175.4,305.3L178.1,303.5L180.6,300L182.7,293.3Z" fill="#c7e7c0"/><path d="M204.1,295.3L206.7,295.3L206.2,298.9L207.7,303.5L208.2,308.6L208.7,312.7L209.7,316.8L208.7,320.9L207.7,323.1L204.6,325.1L199.5,327.2L196.5,326.6L194.9,328.2L193.9,331.2L190.3,333.3L187.3,332.8L184.2,331L185.7,325L186.8,318.8L189.3,316.3L193.4,313.7L197,313.2L199,310.7L199,306.6L199.5,302.5L200.5,298.4Z" fill="#93bb93"/><path d="M206.7,295.3L210.8,295.3L213.8,295.8L217.9,298.4L221,301L224,304.5L223,306.6L221,309.6L218.9,312.7L218.6,315.5L217.9,317.8L209.7,316.8L208.7,312.7L208.2,308.6L207.7,303.5L206.2,298.9Z" fill="#c7e7c0"/><path d="M224,304.5L228.1,305.5L232.2,306.1L234.3,307.1L235.3,309.6L235.8,312.7L230.2,312.7L226.1,311.7L224,313.7L220.5,313L218.9,312.7L221,309.6L223,306.6Z" fill="#fde18c"/><path d="M235.8,312.7L236.3,316.8L230.7,318.3L226.1,319.9L222,317.8L217.9,317.8L218.6,315.5L218.9,312.7L220.5,313L224,313.7L226.1,311.7L230.2,312.7Z" fill="#fde18c"/><path d="M236.3,316.8L235.8,320.9L230,321.5L226,322.8L221,325L215.9,323.1L211.8,324L209.7,325.6L207.7,323.1L208.7,320.9L209.7,316.8L217.9,317.8L222,317.8L226.1,319.9L230.7,318.3Z" fill="#93bb93"/><path d="M235.8,320.9L234.3,324.1L231.7,327.2L227,328.5L222,327.5L221,325L226,322.8L230,321.5Z" fill="#c7e7c0"/><path d="M231.7,327.2L229.2,330.2L226.1,333.3L224,336.4L223,333.3L222,330.2L222,327.5L227,328.5Z" fill="#c7e7c0"/><path d="M224,336.4L222,340.4L220,343L218.4,344L217.4,346.6L217.4,350.7L216.9,354.7L216.4,358.8L215.6,363L215.1,367.2L209.8,367.2L210.4,362.5L212.7,359L210.4,357.3L204.6,355.5L199.9,353.2L196.4,351.4L192.9,349.7L189.4,350.8L184.7,353.8L182.4,352.6L183.2,350L184.7,348.6L184,344.4L183.7,340.4L182.7,335.3L184.2,331L187.3,332.8L190.3,333.3L193.9,331.2L194.9,328.2L196.5,326.6L199.5,327.2L204.6,325.1L207.7,323.1L209.7,325.6L211.8,324L215.9,323.1L221,325L222,327.5L222,330.2L223,333.3Z" fill="#fdb986"/><path d="M163.1,342L167.2,343.2L170.7,343.8L175.4,345L180,343.8L184,344.4L184.7,348.6L183.2,350L182.4,352.6L180,357.8L178.9,360.2L178.9,365.4L177.7,368.4L170.7,370.1L164.9,371.3L162.8,375L159.6,372.6L154,369.8L150.4,367.6L151.8,363.4L156.8,358.4L159.6,353.4L161.8,348.5L163.2,342.8Z" fill="#d4603f"/><path d="M131.2,366.2L137.6,363.4L142.6,364.8L148.3,365.5L150.4,367.6L154,369.8L159.6,372.6L162.8,375L161.4,377.1L159,380L158,382.5L156.7,384.7L154,388.2L149.8,390.6L147,394.2L141.3,394.9L138.4,391.3L134.1,388.2L129.8,386.8L129.1,378.3L129.8,372.6Z" fill="#fde18c"/><path d="M182.4,352.6L184.7,353.8L189.4,350.8L192.9,349.7L196.4,351.4L199.9,353.2L204.6,355.5L210.4,357.3L212.7,359L210.4,362.5L209.8,367.2L208.1,369.5L206.9,374.2L205.7,378.9L205.5,381.2L204.6,381.8L202.2,384.7L196.4,387L191.7,388.2L186.5,390L183,388.2L181.8,383.5L179.5,378.9L172.4,378.3L168.4,376.5L162.8,375L164.9,371.3L170.7,370.1L177.7,368.4L178.9,365.4L178.9,360.2L180,357.8Z" fill="#7f0000"/><path d="M209.8,367.2L215.1,367.2L213.3,371.9L212.2,376.5L210.4,380L208.7,382.4L205.5,381.2L205.7,378.9L206.9,374.2L208.1,369.5Z" fill="#ffffff"/><path d="M205.5,381.2L208.7,382.4L208.1,385.3L205.7,388.2L202.2,389.4L197.6,390L192.9,391.1L190,392.3L186.5,390L191.7,388.2L196.4,387L202.2,384.7L204.6,381.8Z" fill="#c7e7c0"/><path d="M162.8,375L168.4,376.5L172.4,378.3L179.5,378.9L181.8,383.5L183,388.2L186.5,390L190,392.3L188.1,394.2L182.4,397L176.7,399.9L174.6,402L168.2,395.6L166.8,392L162.6,389.9L154.8,389.2L149.8,390.6L154,388.2L156.7,384.7L158,382.5L159,380L161.4,377.1Z" fill="#93bb93"/><path d="M149.8,390.6L154.8,389.2L162.6,389.9L166.8,392L168.2,395.6L174.6,402L173.9,405.5L168.2,406.2L162.6,405.5L156.9,407.7L149.8,406.2L149.1,404.1L146.2,402.7L146.5,398L147,394.2Z" fill="#c7e7c0"/><path d="M149.8,406.2L156.9,407.7L162.6,405.5L168.2,406.2L173.9,405.5L174.6,411.9L172.5,416.2L168.9,419L168.2,420.4L167.5,417.6L164,413.3L156.9,410.5L149.8,410.5Z" fill="#ffffff"/><path d="M149.8,410.5L156.9,410.5L164,413.3L167.5,417.6L168.2,420.4L167.3,423.3L165.9,426L163.8,429L160.8,432.2L157.8,435.2L155.2,438L152.8,440.4L150.8,442.2L151.2,439.6L150.5,436L144.1,431.1L137,428.2L131.3,425.4L134.2,422.6L138.4,416.9L144.1,412.6Z" fill="#ffffff"/><path d="M174.2,355.2L178.2,355.2L178.2,358.2L174.2,358.2Z" fill="#d4603f"/></g><circle cx="628.1" cy="376.1" r="0.35" fill="#888"/><circle cx="632.9" cy="403.2" r="0.35" fill="#888"/><text x="358.5" y="442.8" style="font-family:'Liberation Sans',sans-serif;font-size:5.55px" fill="#000">CHKV incidence per 100,000 inhabitants</text><rect x="462.9" y="433.4" width="6.6" height="6.8" fill="#ffffff" stroke="#555" stroke-width="0.5"/><text x="472.5" y="438" style="font-family:'Liberation Sans',sans-serif;font-size:3.9px" fill="#222">&lt;1</text><rect x="462.9" y="442.6" width="6.6" height="6.8" fill="#c7e7c0" stroke="#555" stroke-width="0.5"/><text x="472.5" y="447.2" style="font-family:'Liberation Sans',sans-serif;font-size:3.9px" fill="#222">1-10</text><rect x="482.2" y="433.4" width="6.6" height="6.8" fill="#93bb93" stroke="#555" stroke-width="0.5"/><text x="491.8" y="438" style="font-family:'Liberation Sans',sans-serif;font-size:3.9px" fill="#222">11-30</text><rect x="482.2" y="442.6" width="6.6" height="6.8" fill="#fde18c" stroke="#555" stroke-width="0.5"/><text x="491.8" y="447.2" style="font-family:'Liberation Sans',sans-serif;font-size:3.9px" fill="#222">31-50</text><rect x="503.7" y="433.4" width="6.6" height="6.8" fill="#fdb986" stroke="#555" stroke-width="0.5"/><text x="512.8" y="438" style="font-family:'Liberation Sans',sans-serif;font-size:3.9px" fill="#222">51-70</text><rect x="503.7" y="442.6" width="6.6" height="6.8" fill="#f98c51" stroke="#555" stroke-width="0.5"/><text x="512.8" y="447.2" style="font-family:'Liberation Sans',sans-serif;font-size:3.9px" fill="#222">71-90</text><rect x="525.0" y="433.4" width="6.6" height="6.8" fill="#d4603f" stroke="#555" stroke-width="0.5"/><text x="534.2" y="438" style="font-family:'Liberation Sans',sans-serif;font-size:3.9px" fill="#222">91-120</text><rect x="525.0" y="442.6" width="6.6" height="6.8" fill="#d12e2b" stroke="#555" stroke-width="0.5"/><text x="534.2" y="447.2" style="font-family:'Liberation Sans',sans-serif;font-size:3.9px" fill="#222">121-200</text><rect x="550.5" y="433.4" width="6.6" height="6.8" fill="#921d20" stroke="#555" stroke-width="0.5"/><text x="559.8" y="438" style="font-family:'Liberation Sans',sans-serif;font-size:3.9px" fill="#222">201-500</text><rect x="550.5" y="442.6" width="6.6" height="6.8" fill="#7f0000" stroke="#555" stroke-width="0.5"/><text x="559.8" y="447.2" style="font-family:'Liberation Sans',sans-serif;font-size:3.9px" fill="#222">&gt;501</text></svg>
</body></html>
